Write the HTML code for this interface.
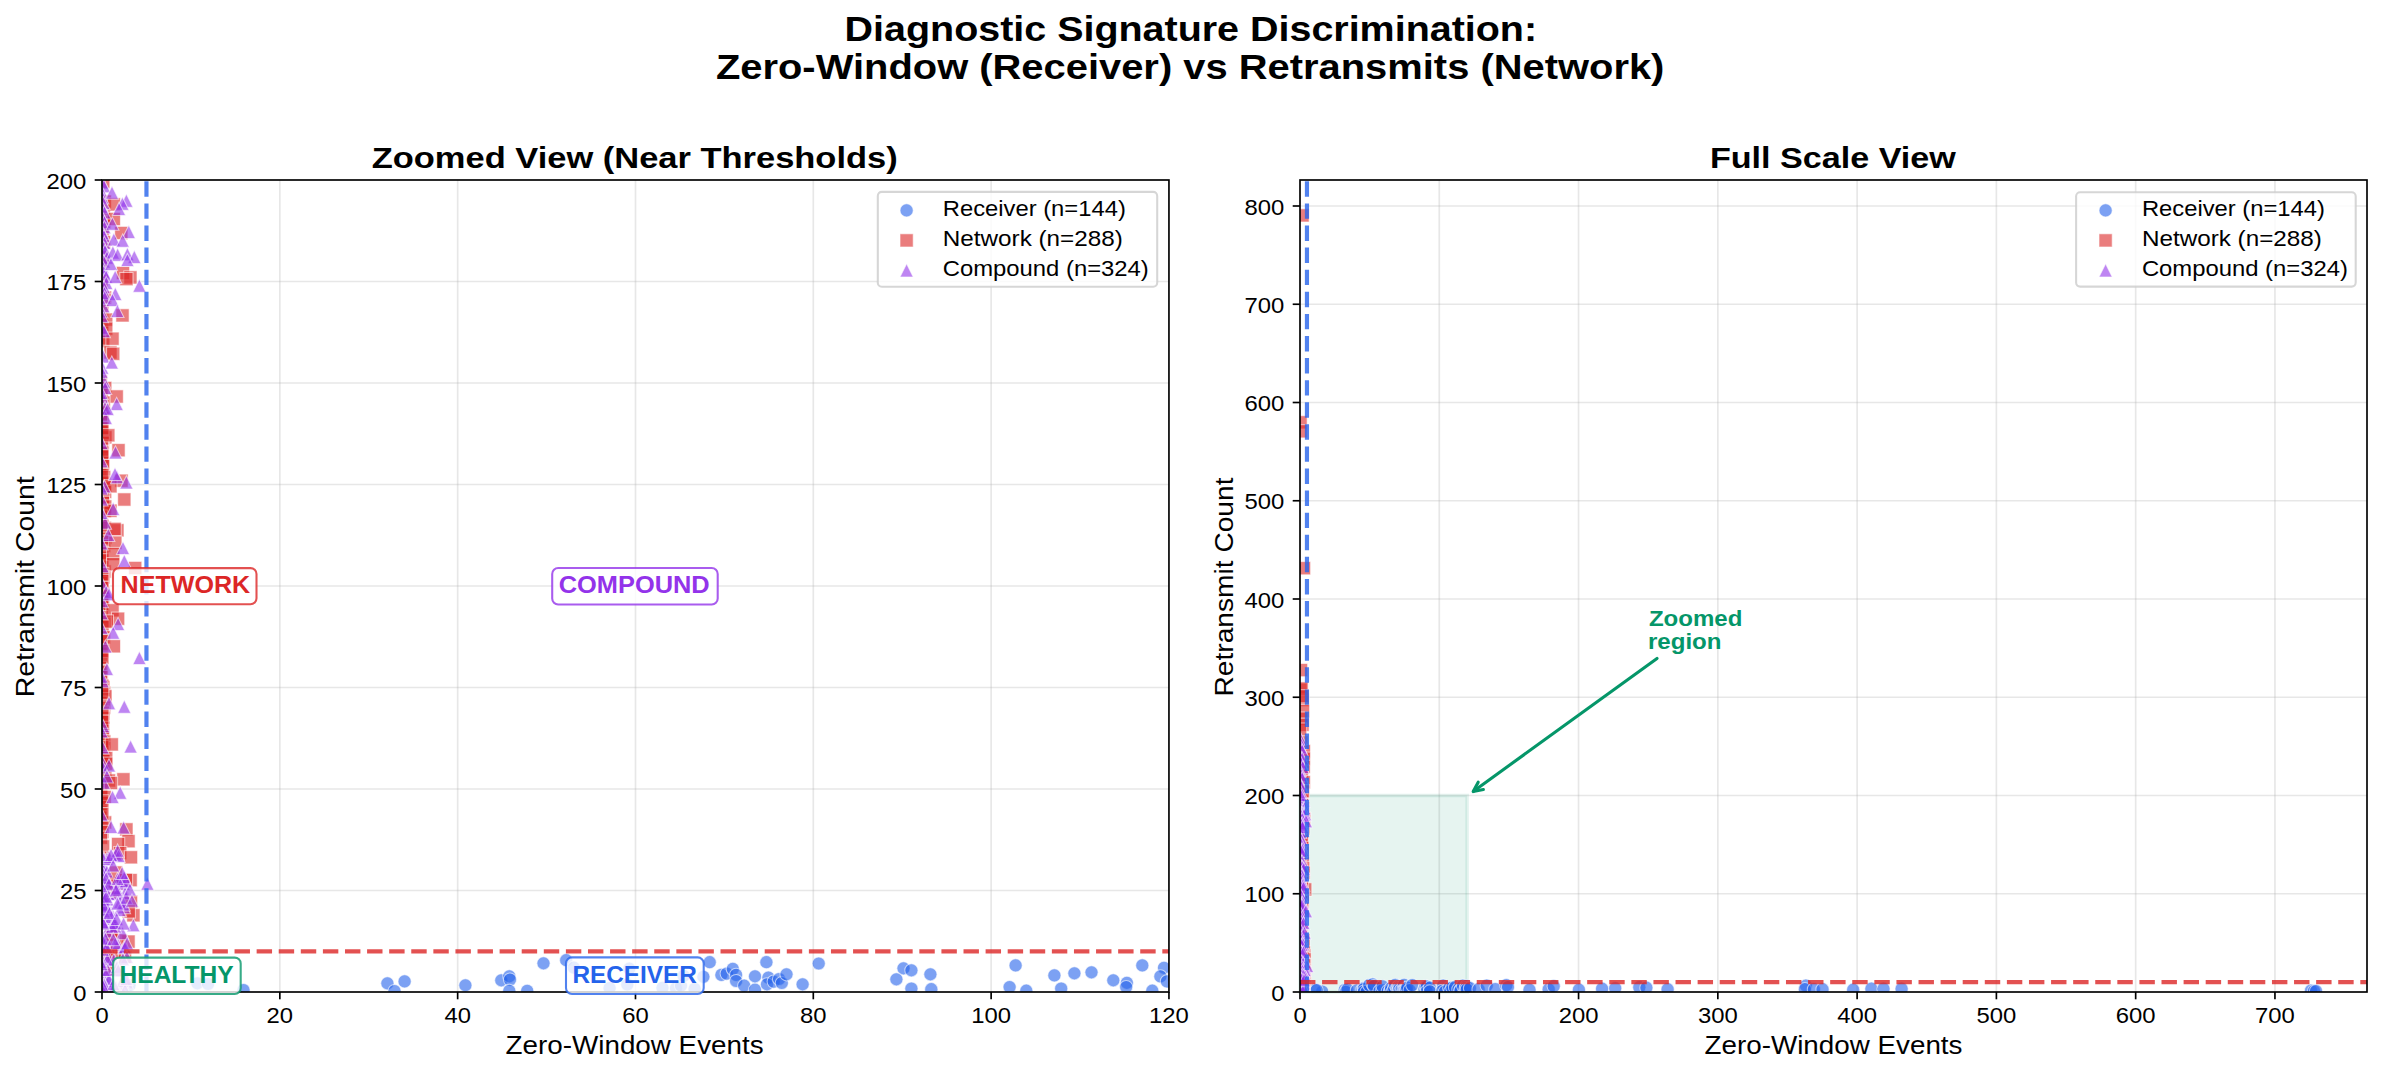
<!DOCTYPE html>
<html><head><meta charset="utf-8"><title>Diagnostic Signature Discrimination</title><style>html,body{margin:0;padding:0;background:#fff;overflow:hidden}svg{display:block}</style></head><body>
<svg width="2382" height="1074" viewBox="0 0 2382 1074" font-family='"Liberation Sans", sans-serif'>
<rect width="2382" height="1074" fill="#fff"/>
<defs>
<clipPath id="cl"><rect x="102.00" y="180.00" width="1066.95" height="812.00"/></clipPath>
<clipPath id="cr"><rect x="1300.00" y="180.00" width="1067.00" height="812.00"/></clipPath>
</defs>
<text x="844.6" y="41.1" font-size="34.5" font-weight="bold" text-anchor="start" fill="#000" textLength="692.5" lengthAdjust="spacingAndGlyphs">Diagnostic Signature Discrimination:</text>
<text x="715.9" y="79.1" font-size="34.5" font-weight="bold" text-anchor="start" fill="#000" textLength="948.5" lengthAdjust="spacingAndGlyphs">Zero-Window (Receiver) vs Retransmits (Network)</text>
<text x="371.7" y="168.3" font-size="29.7" font-weight="bold" text-anchor="start" fill="#000" textLength="526.0" lengthAdjust="spacingAndGlyphs">Zoomed View (Near Thresholds)</text>
<text x="1709.9" y="168.0" font-size="29.7" font-weight="bold" text-anchor="start" fill="#000" textLength="246.0" lengthAdjust="spacingAndGlyphs">Full Scale View</text>
<line x1="279.83" y1="180.0" x2="279.83" y2="992.0" stroke="#b0b0b0" stroke-opacity="0.3" stroke-width="1.67"/>
<line x1="457.65" y1="180.0" x2="457.65" y2="992.0" stroke="#b0b0b0" stroke-opacity="0.3" stroke-width="1.67"/>
<line x1="635.48" y1="180.0" x2="635.48" y2="992.0" stroke="#b0b0b0" stroke-opacity="0.3" stroke-width="1.67"/>
<line x1="813.30" y1="180.0" x2="813.30" y2="992.0" stroke="#b0b0b0" stroke-opacity="0.3" stroke-width="1.67"/>
<line x1="991.13" y1="180.0" x2="991.13" y2="992.0" stroke="#b0b0b0" stroke-opacity="0.3" stroke-width="1.67"/>
<line x1="102.0" y1="890.50" x2="1168.95" y2="890.50" stroke="#b0b0b0" stroke-opacity="0.3" stroke-width="1.67"/>
<line x1="102.0" y1="789.00" x2="1168.95" y2="789.00" stroke="#b0b0b0" stroke-opacity="0.3" stroke-width="1.67"/>
<line x1="102.0" y1="687.50" x2="1168.95" y2="687.50" stroke="#b0b0b0" stroke-opacity="0.3" stroke-width="1.67"/>
<line x1="102.0" y1="586.00" x2="1168.95" y2="586.00" stroke="#b0b0b0" stroke-opacity="0.3" stroke-width="1.67"/>
<line x1="102.0" y1="484.50" x2="1168.95" y2="484.50" stroke="#b0b0b0" stroke-opacity="0.3" stroke-width="1.67"/>
<line x1="102.0" y1="383.00" x2="1168.95" y2="383.00" stroke="#b0b0b0" stroke-opacity="0.3" stroke-width="1.67"/>
<line x1="102.0" y1="281.50" x2="1168.95" y2="281.50" stroke="#b0b0b0" stroke-opacity="0.3" stroke-width="1.67"/>
<line x1="1439.28" y1="180.0" x2="1439.28" y2="992.0" stroke="#b0b0b0" stroke-opacity="0.3" stroke-width="1.67"/>
<line x1="1578.56" y1="180.0" x2="1578.56" y2="992.0" stroke="#b0b0b0" stroke-opacity="0.3" stroke-width="1.67"/>
<line x1="1717.84" y1="180.0" x2="1717.84" y2="992.0" stroke="#b0b0b0" stroke-opacity="0.3" stroke-width="1.67"/>
<line x1="1857.12" y1="180.0" x2="1857.12" y2="992.0" stroke="#b0b0b0" stroke-opacity="0.3" stroke-width="1.67"/>
<line x1="1996.39" y1="180.0" x2="1996.39" y2="992.0" stroke="#b0b0b0" stroke-opacity="0.3" stroke-width="1.67"/>
<line x1="2135.67" y1="180.0" x2="2135.67" y2="992.0" stroke="#b0b0b0" stroke-opacity="0.3" stroke-width="1.67"/>
<line x1="2274.95" y1="180.0" x2="2274.95" y2="992.0" stroke="#b0b0b0" stroke-opacity="0.3" stroke-width="1.67"/>
<line x1="1300.0" y1="893.75" x2="2367.0" y2="893.75" stroke="#b0b0b0" stroke-opacity="0.3" stroke-width="1.67"/>
<line x1="1300.0" y1="795.50" x2="2367.0" y2="795.50" stroke="#b0b0b0" stroke-opacity="0.3" stroke-width="1.67"/>
<line x1="1300.0" y1="697.25" x2="2367.0" y2="697.25" stroke="#b0b0b0" stroke-opacity="0.3" stroke-width="1.67"/>
<line x1="1300.0" y1="599.00" x2="2367.0" y2="599.00" stroke="#b0b0b0" stroke-opacity="0.3" stroke-width="1.67"/>
<line x1="1300.0" y1="500.75" x2="2367.0" y2="500.75" stroke="#b0b0b0" stroke-opacity="0.3" stroke-width="1.67"/>
<line x1="1300.0" y1="402.50" x2="2367.0" y2="402.50" stroke="#b0b0b0" stroke-opacity="0.3" stroke-width="1.67"/>
<line x1="1300.0" y1="304.25" x2="2367.0" y2="304.25" stroke="#b0b0b0" stroke-opacity="0.3" stroke-width="1.67"/>
<line x1="1300.0" y1="206.00" x2="2367.0" y2="206.00" stroke="#b0b0b0" stroke-opacity="0.3" stroke-width="1.67"/>
<rect x="1300.0" y="795.50" width="167.13" height="196.50" fill="#059669" fill-opacity="0.1" stroke="#059669" stroke-opacity="0.1" stroke-width="3.6"/>
<style>.c{fill:#2563eb;fill-opacity:.6;stroke:#fff;stroke-opacity:.6;stroke-width:1.04}.s{fill:#dc2626;fill-opacity:.6;stroke:#fff;stroke-opacity:.6;stroke-width:1.04}.t{fill:#9333ea;fill-opacity:.6;stroke:#fff;stroke-opacity:.6;stroke-width:1.04}</style>
<g clip-path="url(#cl)">
<circle cx="243.5" cy="990.0" r="6.60" class="c"/>
<circle cx="387.4" cy="983.3" r="6.60" class="c"/>
<circle cx="394.5" cy="991.0" r="6.60" class="c"/>
<circle cx="404.6" cy="981.4" r="6.60" class="c"/>
<circle cx="465.4" cy="985.3" r="6.60" class="c"/>
<circle cx="501.3" cy="980.3" r="6.60" class="c"/>
<circle cx="509.3" cy="976.3" r="6.60" class="c"/>
<circle cx="510.0" cy="979.6" r="6.60" class="c"/>
<circle cx="509.3" cy="990.8" r="6.60" class="c"/>
<circle cx="527.2" cy="990.8" r="6.60" class="c"/>
<circle cx="543.5" cy="963.3" r="6.60" class="c"/>
<circle cx="566.2" cy="960.2" r="6.60" class="c"/>
<circle cx="573.9" cy="967.7" r="6.60" class="c"/>
<circle cx="609.6" cy="988.0" r="6.60" class="c"/>
<circle cx="627.3" cy="984.5" r="6.60" class="c"/>
<circle cx="629.3" cy="968.7" r="6.60" class="c"/>
<circle cx="662.5" cy="987.8" r="6.60" class="c"/>
<circle cx="676.0" cy="988.2" r="6.60" class="c"/>
<circle cx="681.0" cy="985.7" r="6.60" class="c"/>
<circle cx="683.6" cy="975.9" r="6.60" class="c"/>
<circle cx="694.6" cy="988.8" r="6.60" class="c"/>
<circle cx="703.4" cy="976.8" r="6.60" class="c"/>
<circle cx="709.7" cy="962.2" r="6.60" class="c"/>
<circle cx="721.4" cy="974.9" r="6.60" class="c"/>
<circle cx="726.7" cy="973.6" r="6.60" class="c"/>
<circle cx="732.8" cy="968.9" r="6.60" class="c"/>
<circle cx="736.1" cy="974.9" r="6.60" class="c"/>
<circle cx="736.1" cy="981.0" r="6.60" class="c"/>
<circle cx="744.2" cy="985.7" r="6.60" class="c"/>
<circle cx="755.0" cy="989.7" r="6.60" class="c"/>
<circle cx="755.0" cy="976.3" r="6.60" class="c"/>
<circle cx="766.4" cy="962.2" r="6.60" class="c"/>
<circle cx="768.4" cy="977.6" r="6.60" class="c"/>
<circle cx="767.0" cy="984.3" r="6.60" class="c"/>
<circle cx="773.7" cy="981.6" r="6.60" class="c"/>
<circle cx="779.1" cy="979.0" r="6.60" class="c"/>
<circle cx="781.8" cy="983.0" r="6.60" class="c"/>
<circle cx="786.5" cy="974.3" r="6.60" class="c"/>
<circle cx="802.6" cy="984.3" r="6.60" class="c"/>
<circle cx="818.7" cy="963.5" r="6.60" class="c"/>
<circle cx="896.4" cy="979.3" r="6.60" class="c"/>
<circle cx="903.5" cy="968.3" r="6.60" class="c"/>
<circle cx="911.4" cy="970.3" r="6.60" class="c"/>
<circle cx="911.4" cy="988.5" r="6.60" class="c"/>
<circle cx="930.4" cy="974.3" r="6.60" class="c"/>
<circle cx="931.3" cy="989.2" r="6.60" class="c"/>
<circle cx="1015.6" cy="965.4" r="6.60" class="c"/>
<circle cx="1009.6" cy="987.1" r="6.60" class="c"/>
<circle cx="1026.3" cy="990.7" r="6.60" class="c"/>
<circle cx="1054.4" cy="975.4" r="6.60" class="c"/>
<circle cx="1061.2" cy="988.5" r="6.60" class="c"/>
<circle cx="1074.4" cy="973.3" r="6.60" class="c"/>
<circle cx="1091.5" cy="972.3" r="6.60" class="c"/>
<circle cx="1113.3" cy="980.3" r="6.60" class="c"/>
<circle cx="1126.9" cy="982.8" r="6.60" class="c"/>
<circle cx="1126.2" cy="987.1" r="6.60" class="c"/>
<circle cx="1152.3" cy="990.7" r="6.60" class="c"/>
<circle cx="1142.3" cy="965.4" r="6.60" class="c"/>
<circle cx="1164.0" cy="967.8" r="6.60" class="c"/>
<circle cx="1160.4" cy="976.4" r="6.60" class="c"/>
<circle cx="1166.9" cy="981.4" r="6.60" class="c"/>
<circle cx="129.5" cy="985.3" r="6.60" class="c"/>
<circle cx="197.4" cy="983.3" r="6.60" class="c"/>
<circle cx="208.1" cy="984.0" r="6.60" class="c"/>
<rect x="96.6" y="175.1" width="13.2" height="13.2" class="s"/>
<rect x="98.2" y="195.0" width="13.2" height="13.2" class="s"/>
<rect x="97.3" y="210.3" width="13.2" height="13.2" class="s"/>
<rect x="97.9" y="215.8" width="13.2" height="13.2" class="s"/>
<rect x="96.0" y="225.9" width="13.2" height="13.2" class="s"/>
<rect x="97.4" y="235.6" width="13.2" height="13.2" class="s"/>
<rect x="95.8" y="250.7" width="13.2" height="13.2" class="s"/>
<rect x="94.2" y="255.9" width="13.2" height="13.2" class="s"/>
<rect x="94.8" y="274.9" width="13.2" height="13.2" class="s"/>
<rect x="93.9" y="280.2" width="13.2" height="13.2" class="s"/>
<rect x="98.4" y="291.0" width="13.2" height="13.2" class="s"/>
<rect x="95.6" y="304.5" width="13.2" height="13.2" class="s"/>
<rect x="94.0" y="311.1" width="13.2" height="13.2" class="s"/>
<rect x="95.2" y="315.1" width="13.2" height="13.2" class="s"/>
<rect x="95.6" y="324.9" width="13.2" height="13.2" class="s"/>
<rect x="94.0" y="331.3" width="13.2" height="13.2" class="s"/>
<rect x="96.6" y="334.5" width="13.2" height="13.2" class="s"/>
<rect x="94.0" y="375.0" width="13.2" height="13.2" class="s"/>
<rect x="98.6" y="381.4" width="13.2" height="13.2" class="s"/>
<rect x="95.0" y="384.9" width="13.2" height="13.2" class="s"/>
<rect x="97.2" y="396.0" width="13.2" height="13.2" class="s"/>
<rect x="94.8" y="406.0" width="13.2" height="13.2" class="s"/>
<rect x="95.9" y="411.3" width="13.2" height="13.2" class="s"/>
<rect x="94.5" y="414.7" width="13.2" height="13.2" class="s"/>
<rect x="94.6" y="421.1" width="13.2" height="13.2" class="s"/>
<rect x="95.7" y="425.5" width="13.2" height="13.2" class="s"/>
<rect x="98.8" y="430.7" width="13.2" height="13.2" class="s"/>
<rect x="96.1" y="436.1" width="13.2" height="13.2" class="s"/>
<rect x="95.2" y="440.0" width="13.2" height="13.2" class="s"/>
<rect x="95.2" y="445.2" width="13.2" height="13.2" class="s"/>
<rect x="95.7" y="450.3" width="13.2" height="13.2" class="s"/>
<rect x="96.0" y="456.2" width="13.2" height="13.2" class="s"/>
<rect x="96.5" y="459.4" width="13.2" height="13.2" class="s"/>
<rect x="93.9" y="466.0" width="13.2" height="13.2" class="s"/>
<rect x="97.5" y="470.5" width="13.2" height="13.2" class="s"/>
<rect x="96.7" y="476.0" width="13.2" height="13.2" class="s"/>
<rect x="97.8" y="480.4" width="13.2" height="13.2" class="s"/>
<rect x="98.5" y="485.3" width="13.2" height="13.2" class="s"/>
<rect x="96.5" y="490.8" width="13.2" height="13.2" class="s"/>
<rect x="96.3" y="496.3" width="13.2" height="13.2" class="s"/>
<rect x="98.6" y="499.9" width="13.2" height="13.2" class="s"/>
<rect x="98.1" y="504.7" width="13.2" height="13.2" class="s"/>
<rect x="94.3" y="509.9" width="13.2" height="13.2" class="s"/>
<rect x="94.7" y="515.8" width="13.2" height="13.2" class="s"/>
<rect x="98.3" y="521.3" width="13.2" height="13.2" class="s"/>
<rect x="98.8" y="531.1" width="13.2" height="13.2" class="s"/>
<rect x="96.5" y="535.1" width="13.2" height="13.2" class="s"/>
<rect x="97.5" y="539.4" width="13.2" height="13.2" class="s"/>
<rect x="94.0" y="545.1" width="13.2" height="13.2" class="s"/>
<rect x="94.2" y="551.4" width="13.2" height="13.2" class="s"/>
<rect x="95.3" y="559.7" width="13.2" height="13.2" class="s"/>
<rect x="98.0" y="564.9" width="13.2" height="13.2" class="s"/>
<rect x="96.8" y="570.8" width="13.2" height="13.2" class="s"/>
<rect x="94.3" y="576.3" width="13.2" height="13.2" class="s"/>
<rect x="94.3" y="581.1" width="13.2" height="13.2" class="s"/>
<rect x="96.7" y="586.3" width="13.2" height="13.2" class="s"/>
<rect x="96.5" y="589.9" width="13.2" height="13.2" class="s"/>
<rect x="95.5" y="595.0" width="13.2" height="13.2" class="s"/>
<rect x="96.4" y="599.8" width="13.2" height="13.2" class="s"/>
<rect x="95.2" y="604.4" width="13.2" height="13.2" class="s"/>
<rect x="94.8" y="610.3" width="13.2" height="13.2" class="s"/>
<rect x="98.0" y="615.3" width="13.2" height="13.2" class="s"/>
<rect x="95.9" y="620.4" width="13.2" height="13.2" class="s"/>
<rect x="97.4" y="630.7" width="13.2" height="13.2" class="s"/>
<rect x="94.2" y="634.7" width="13.2" height="13.2" class="s"/>
<rect x="94.3" y="641.1" width="13.2" height="13.2" class="s"/>
<rect x="95.3" y="644.9" width="13.2" height="13.2" class="s"/>
<rect x="94.7" y="650.3" width="13.2" height="13.2" class="s"/>
<rect x="95.1" y="661.3" width="13.2" height="13.2" class="s"/>
<rect x="93.9" y="665.2" width="13.2" height="13.2" class="s"/>
<rect x="94.9" y="670.4" width="13.2" height="13.2" class="s"/>
<rect x="94.1" y="674.4" width="13.2" height="13.2" class="s"/>
<rect x="96.8" y="680.5" width="13.2" height="13.2" class="s"/>
<rect x="97.5" y="686.2" width="13.2" height="13.2" class="s"/>
<rect x="98.8" y="689.7" width="13.2" height="13.2" class="s"/>
<rect x="94.1" y="696.1" width="13.2" height="13.2" class="s"/>
<rect x="97.6" y="701.0" width="13.2" height="13.2" class="s"/>
<rect x="96.4" y="706.1" width="13.2" height="13.2" class="s"/>
<rect x="96.8" y="711.2" width="13.2" height="13.2" class="s"/>
<rect x="95.0" y="714.5" width="13.2" height="13.2" class="s"/>
<rect x="96.7" y="720.7" width="13.2" height="13.2" class="s"/>
<rect x="96.3" y="724.4" width="13.2" height="13.2" class="s"/>
<rect x="96.4" y="730.5" width="13.2" height="13.2" class="s"/>
<rect x="97.6" y="734.9" width="13.2" height="13.2" class="s"/>
<rect x="97.6" y="741.4" width="13.2" height="13.2" class="s"/>
<rect x="96.3" y="745.8" width="13.2" height="13.2" class="s"/>
<rect x="97.1" y="749.6" width="13.2" height="13.2" class="s"/>
<rect x="96.7" y="754.4" width="13.2" height="13.2" class="s"/>
<rect x="97.3" y="760.0" width="13.2" height="13.2" class="s"/>
<rect x="96.2" y="764.6" width="13.2" height="13.2" class="s"/>
<rect x="98.8" y="771.3" width="13.2" height="13.2" class="s"/>
<rect x="94.9" y="781.3" width="13.2" height="13.2" class="s"/>
<rect x="94.6" y="785.4" width="13.2" height="13.2" class="s"/>
<rect x="98.0" y="790.4" width="13.2" height="13.2" class="s"/>
<rect x="95.1" y="796.2" width="13.2" height="13.2" class="s"/>
<rect x="93.9" y="800.4" width="13.2" height="13.2" class="s"/>
<rect x="94.6" y="805.1" width="13.2" height="13.2" class="s"/>
<rect x="93.9" y="810.9" width="13.2" height="13.2" class="s"/>
<rect x="98.5" y="815.8" width="13.2" height="13.2" class="s"/>
<rect x="95.8" y="820.2" width="13.2" height="13.2" class="s"/>
<rect x="95.7" y="825.3" width="13.2" height="13.2" class="s"/>
<rect x="94.4" y="831.1" width="13.2" height="13.2" class="s"/>
<rect x="96.5" y="839.8" width="13.2" height="13.2" class="s"/>
<rect x="97.1" y="851.2" width="13.2" height="13.2" class="s"/>
<rect x="107.2" y="197.8" width="13.2" height="13.2" class="s"/>
<rect x="107.2" y="212.4" width="13.2" height="13.2" class="s"/>
<rect x="114.7" y="226.4" width="13.2" height="13.2" class="s"/>
<rect x="116.4" y="266.4" width="13.2" height="13.2" class="s"/>
<rect x="123.8" y="270.8" width="13.2" height="13.2" class="s"/>
<rect x="119.8" y="272.5" width="13.2" height="13.2" class="s"/>
<rect x="115.9" y="308.8" width="13.2" height="13.2" class="s"/>
<rect x="99.6" y="313.0" width="13.2" height="13.2" class="s"/>
<rect x="99.6" y="322.1" width="13.2" height="13.2" class="s"/>
<rect x="105.9" y="332.1" width="13.2" height="13.2" class="s"/>
<rect x="103.8" y="345.8" width="13.2" height="13.2" class="s"/>
<rect x="106.6" y="347.2" width="13.2" height="13.2" class="s"/>
<rect x="110.1" y="389.9" width="13.2" height="13.2" class="s"/>
<rect x="95.7" y="421.7" width="13.2" height="13.2" class="s"/>
<rect x="101.7" y="428.7" width="13.2" height="13.2" class="s"/>
<rect x="95.7" y="446.1" width="13.2" height="13.2" class="s"/>
<rect x="111.9" y="443.6" width="13.2" height="13.2" class="s"/>
<rect x="95.7" y="468.5" width="13.2" height="13.2" class="s"/>
<rect x="114.9" y="474.1" width="13.2" height="13.2" class="s"/>
<rect x="103.8" y="479.7" width="13.2" height="13.2" class="s"/>
<rect x="117.7" y="492.9" width="13.2" height="13.2" class="s"/>
<rect x="103.8" y="504.1" width="13.2" height="13.2" class="s"/>
<rect x="95.7" y="518.8" width="13.2" height="13.2" class="s"/>
<rect x="110.8" y="523.7" width="13.2" height="13.2" class="s"/>
<rect x="108.0" y="522.3" width="13.2" height="13.2" class="s"/>
<rect x="108.7" y="536.2" width="13.2" height="13.2" class="s"/>
<rect x="95.7" y="546.7" width="13.2" height="13.2" class="s"/>
<rect x="95.7" y="553.7" width="13.2" height="13.2" class="s"/>
<rect x="106.6" y="547.4" width="13.2" height="13.2" class="s"/>
<rect x="128.6" y="561.4" width="13.2" height="13.2" class="s"/>
<rect x="106.6" y="557.6" width="13.2" height="13.2" class="s"/>
<rect x="95.7" y="567.4" width="13.2" height="13.2" class="s"/>
<rect x="95.7" y="574.4" width="13.2" height="13.2" class="s"/>
<rect x="95.7" y="581.4" width="13.2" height="13.2" class="s"/>
<rect x="95.7" y="597.4" width="13.2" height="13.2" class="s"/>
<rect x="105.9" y="603.7" width="13.2" height="13.2" class="s"/>
<rect x="111.5" y="612.1" width="13.2" height="13.2" class="s"/>
<rect x="100.3" y="614.9" width="13.2" height="13.2" class="s"/>
<rect x="95.7" y="633.7" width="13.2" height="13.2" class="s"/>
<rect x="107.3" y="639.7" width="13.2" height="13.2" class="s"/>
<rect x="95.7" y="644.2" width="13.2" height="13.2" class="s"/>
<rect x="95.7" y="651.2" width="13.2" height="13.2" class="s"/>
<rect x="95.7" y="679.2" width="13.2" height="13.2" class="s"/>
<rect x="95.7" y="686.1" width="13.2" height="13.2" class="s"/>
<rect x="95.7" y="708.2" width="13.2" height="13.2" class="s"/>
<rect x="95.7" y="715.2" width="13.2" height="13.2" class="s"/>
<rect x="95.7" y="734.7" width="13.2" height="13.2" class="s"/>
<rect x="95.7" y="740.3" width="13.2" height="13.2" class="s"/>
<rect x="105.2" y="737.8" width="13.2" height="13.2" class="s"/>
<rect x="99.6" y="751.5" width="13.2" height="13.2" class="s"/>
<rect x="99.6" y="757.1" width="13.2" height="13.2" class="s"/>
<rect x="102.4" y="773.9" width="13.2" height="13.2" class="s"/>
<rect x="116.8" y="772.7" width="13.2" height="13.2" class="s"/>
<rect x="104.4" y="776.4" width="13.2" height="13.2" class="s"/>
<rect x="95.7" y="794.8" width="13.2" height="13.2" class="s"/>
<rect x="95.7" y="807.4" width="13.2" height="13.2" class="s"/>
<rect x="119.8" y="822.8" width="13.2" height="13.2" class="s"/>
<rect x="121.9" y="834.6" width="13.2" height="13.2" class="s"/>
<rect x="111.5" y="837.4" width="13.2" height="13.2" class="s"/>
<rect x="113.6" y="846.5" width="13.2" height="13.2" class="s"/>
<rect x="124.4" y="850.7" width="13.2" height="13.2" class="s"/>
<rect x="124.0" y="873.5" width="13.2" height="13.2" class="s"/>
<rect x="111.5" y="877.0" width="13.2" height="13.2" class="s"/>
<rect x="105.2" y="876.4" width="13.2" height="13.2" class="s"/>
<rect x="124.4" y="895.2" width="13.2" height="13.2" class="s"/>
<rect x="126.8" y="908.7" width="13.2" height="13.2" class="s"/>
<rect x="121.9" y="935.0" width="13.2" height="13.2" class="s"/>
<rect x="98.6" y="887.8" width="13.2" height="13.2" class="s"/>
<rect x="109.4" y="865.9" width="13.2" height="13.2" class="s"/>
<rect x="108.0" y="945.7" width="13.2" height="13.2" class="s"/>
<rect x="107.2" y="883.8" width="13.2" height="13.2" class="s"/>
<rect x="113.9" y="934.0" width="13.2" height="13.2" class="s"/>
<rect x="118.4" y="950.6" width="13.2" height="13.2" class="s"/>
<rect x="99.6" y="939.8" width="13.2" height="13.2" class="s"/>
<rect x="104.0" y="962.7" width="13.2" height="13.2" class="s"/>
<rect x="106.1" y="927.1" width="13.2" height="13.2" class="s"/>
<rect x="101.6" y="949.3" width="13.2" height="13.2" class="s"/>
<rect x="102.8" y="885.6" width="13.2" height="13.2" class="s"/>
<rect x="119.4" y="873.3" width="13.2" height="13.2" class="s"/>
<rect x="104.9" y="928.6" width="13.2" height="13.2" class="s"/>
<rect x="122.2" y="904.9" width="13.2" height="13.2" class="s"/>
<path d="M101.9 175.7L95.3 188.9H108.5Z" class="t"/>
<path d="M104.0 179.5L97.4 192.7H110.6Z" class="t"/>
<path d="M101.5 185.2L94.9 198.4H108.1Z" class="t"/>
<path d="M102.3 190.7L95.7 203.9H108.9Z" class="t"/>
<path d="M103.4 196.4L96.8 209.6H110.0Z" class="t"/>
<path d="M101.7 200.0L95.1 213.2H108.3Z" class="t"/>
<path d="M104.5 205.7L97.9 218.9H111.1Z" class="t"/>
<path d="M101.4 209.5L94.8 222.7H108.0Z" class="t"/>
<path d="M104.5 215.3L97.9 228.5H111.1Z" class="t"/>
<path d="M104.4 220.5L97.8 233.7H111.0Z" class="t"/>
<path d="M102.7 226.4L96.1 239.6H109.3Z" class="t"/>
<path d="M103.9 229.5L97.3 242.7H110.5Z" class="t"/>
<path d="M104.4 236.2L97.8 249.4H111.0Z" class="t"/>
<path d="M103.7 241.1L97.1 254.3H110.3Z" class="t"/>
<path d="M105.0 244.5L98.4 257.7H111.6Z" class="t"/>
<path d="M107.0 251.0L100.4 264.2H113.6Z" class="t"/>
<path d="M103.8 254.7L97.2 267.9H110.4Z" class="t"/>
<path d="M102.5 260.2L95.9 273.4H109.1Z" class="t"/>
<path d="M103.7 265.5L97.1 278.7H110.3Z" class="t"/>
<path d="M106.2 270.0L99.6 283.2H112.8Z" class="t"/>
<path d="M106.3 276.3L99.7 289.5H112.9Z" class="t"/>
<path d="M103.9 280.6L97.3 293.8H110.5Z" class="t"/>
<path d="M104.4 286.3L97.8 299.5H111.0Z" class="t"/>
<path d="M104.7 290.8L98.1 304.0H111.3Z" class="t"/>
<path d="M103.4 299.6L96.8 312.8H110.0Z" class="t"/>
<path d="M101.4 304.8L94.8 318.0H108.0Z" class="t"/>
<path d="M101.9 309.6L95.3 322.8H108.5Z" class="t"/>
<path d="M101.7 321.1L95.1 334.3H108.3Z" class="t"/>
<path d="M103.9 324.6L97.3 337.8H110.5Z" class="t"/>
<path d="M103.2 349.7L96.6 362.9H109.8Z" class="t"/>
<path d="M102.3 361.0L95.7 374.2H108.9Z" class="t"/>
<path d="M104.1 375.1L97.5 388.3H110.7Z" class="t"/>
<path d="M105.2 381.3L98.6 394.5H111.8Z" class="t"/>
<path d="M102.2 390.6L95.6 403.8H108.8Z" class="t"/>
<path d="M105.0 401.2L98.4 414.4H111.6Z" class="t"/>
<path d="M105.8 411.3L99.2 424.5H112.4Z" class="t"/>
<path d="M104.4 479.9L97.8 493.1H111.0Z" class="t"/>
<path d="M105.0 516.0L98.4 529.2H111.6Z" class="t"/>
<path d="M102.6 559.5L96.0 572.7H109.2Z" class="t"/>
<path d="M101.3 575.8L94.7 589.0H107.9Z" class="t"/>
<path d="M106.2 585.3L99.6 598.5H112.8Z" class="t"/>
<path d="M102.0 594.5L95.4 607.7H108.6Z" class="t"/>
<path d="M105.4 639.9L98.8 653.1H112.0Z" class="t"/>
<path d="M102.6 674.6L96.0 687.8H109.2Z" class="t"/>
<path d="M103.2 719.6L96.6 732.8H109.8Z" class="t"/>
<path d="M102.6 740.9L96.0 754.1H109.2Z" class="t"/>
<path d="M102.5 755.9L95.9 769.1H109.1Z" class="t"/>
<path d="M102.6 760.7L96.0 773.9H109.2Z" class="t"/>
<path d="M103.8 776.0L97.2 789.2H110.4Z" class="t"/>
<path d="M111.0 980.7L104.4 993.9H117.6Z" class="t"/>
<path d="M101.2 948.5L94.6 961.7H107.8Z" class="t"/>
<path d="M108.3 950.3L101.7 963.5H114.9Z" class="t"/>
<path d="M113.9 953.3L107.3 966.5H120.5Z" class="t"/>
<path d="M101.2 885.2L94.6 898.4H107.8Z" class="t"/>
<path d="M102.0 978.7L95.4 991.9H108.6Z" class="t"/>
<path d="M105.7 912.3L99.1 925.5H112.3Z" class="t"/>
<path d="M117.0 886.9L110.4 900.1H123.6Z" class="t"/>
<path d="M104.0 985.9L97.4 999.1H110.6Z" class="t"/>
<path d="M104.8 939.2L98.2 952.4H111.4Z" class="t"/>
<path d="M106.9 924.8L100.3 938.0H113.5Z" class="t"/>
<path d="M102.4 867.8L95.8 881.0H109.0Z" class="t"/>
<path d="M123.2 873.7L116.6 886.9H129.8Z" class="t"/>
<path d="M103.3 916.0L96.7 929.2H109.9Z" class="t"/>
<path d="M126.9 975.7L120.3 988.9H133.5Z" class="t"/>
<path d="M102.1 909.1L95.5 922.3H108.7Z" class="t"/>
<path d="M101.6 871.5L95.0 884.7H108.2Z" class="t"/>
<path d="M101.6 893.3L95.0 906.5H108.2Z" class="t"/>
<path d="M104.0 878.3L97.4 891.5H110.6Z" class="t"/>
<path d="M122.5 926.6L115.9 939.8H129.1Z" class="t"/>
<path d="M107.3 952.9L100.7 966.1H113.9Z" class="t"/>
<path d="M110.2 903.8L103.6 917.0H116.8Z" class="t"/>
<path d="M105.6 898.4L99.0 911.6H112.2Z" class="t"/>
<path d="M104.3 852.5L97.7 865.7H110.9Z" class="t"/>
<path d="M101.9 984.7L95.3 997.9H108.5Z" class="t"/>
<path d="M113.4 916.9L106.8 930.1H120.0Z" class="t"/>
<path d="M103.2 969.4L96.6 982.6H109.8Z" class="t"/>
<path d="M103.8 883.0L97.2 896.2H110.4Z" class="t"/>
<path d="M108.1 901.8L101.5 915.0H114.7Z" class="t"/>
<path d="M121.0 982.7L114.4 995.9H127.6Z" class="t"/>
<path d="M101.1 970.8L94.5 984.0H107.7Z" class="t"/>
<path d="M116.0 848.1L109.4 861.3H122.6Z" class="t"/>
<path d="M108.9 974.2L102.3 987.4H115.5Z" class="t"/>
<path d="M101.0 929.1L94.4 942.3H107.6Z" class="t"/>
<path d="M124.0 900.6L117.4 913.8H130.6Z" class="t"/>
<path d="M121.3 963.9L114.7 977.1H127.9Z" class="t"/>
<path d="M103.8 985.3L97.2 998.5H110.4Z" class="t"/>
<path d="M102.3 859.3L95.7 872.5H108.9Z" class="t"/>
<path d="M115.1 919.7L108.5 932.9H121.7Z" class="t"/>
<path d="M116.4 980.9L109.8 994.1H123.0Z" class="t"/>
<path d="M117.9 937.9L111.3 951.1H124.5Z" class="t"/>
<path d="M111.0 910.2L104.4 923.4H117.6Z" class="t"/>
<path d="M118.6 849.2L112.0 862.4H125.2Z" class="t"/>
<path d="M123.7 877.4L117.1 890.6H130.3Z" class="t"/>
<path d="M104.9 937.6L98.3 950.8H111.5Z" class="t"/>
<path d="M103.9 862.1L97.3 875.3H110.5Z" class="t"/>
<path d="M115.6 936.3L109.0 949.5H122.2Z" class="t"/>
<path d="M101.4 859.8L94.8 873.0H108.0Z" class="t"/>
<path d="M112.0 920.0L105.4 933.2H118.6Z" class="t"/>
<path d="M103.4 900.1L96.8 913.3H110.0Z" class="t"/>
<path d="M101.0 931.2L94.4 944.4H107.6Z" class="t"/>
<path d="M108.5 887.4L101.9 900.6H115.1Z" class="t"/>
<path d="M113.9 983.4L107.3 996.6H120.5Z" class="t"/>
<path d="M108.9 972.4L102.3 985.6H115.5Z" class="t"/>
<path d="M103.8 877.7L97.2 890.9H110.4Z" class="t"/>
<path d="M115.9 983.6L109.3 996.8H122.5Z" class="t"/>
<path d="M101.1 888.3L94.5 901.5H107.7Z" class="t"/>
<path d="M114.8 916.2L108.2 929.4H121.4Z" class="t"/>
<path d="M104.0 904.7L97.4 917.9H110.6Z" class="t"/>
<path d="M124.0 940.8L117.4 954.0H130.6Z" class="t"/>
<path d="M101.1 876.5L94.5 889.7H107.7Z" class="t"/>
<path d="M107.5 892.8L100.9 906.0H114.1Z" class="t"/>
<path d="M102.9 943.1L96.3 956.3H109.5Z" class="t"/>
<path d="M117.0 959.8L110.4 973.0H123.6Z" class="t"/>
<path d="M103.1 917.1L96.5 930.3H109.7Z" class="t"/>
<path d="M105.0 985.0L98.4 998.2H111.6Z" class="t"/>
<path d="M103.5 963.1L96.9 976.3H110.1Z" class="t"/>
<path d="M117.8 875.7L111.2 888.9H124.4Z" class="t"/>
<path d="M125.0 886.5L118.4 899.7H131.6Z" class="t"/>
<path d="M102.8 915.8L96.2 929.0H109.4Z" class="t"/>
<path d="M107.4 876.0L100.8 889.2H114.0Z" class="t"/>
<path d="M124.9 940.5L118.3 953.7H131.5Z" class="t"/>
<path d="M106.8 864.8L100.2 878.0H113.4Z" class="t"/>
<path d="M125.9 874.5L119.3 887.7H132.5Z" class="t"/>
<path d="M101.2 864.1L94.6 877.3H107.8Z" class="t"/>
<path d="M106.8 852.2L100.2 865.4H113.4Z" class="t"/>
<path d="M122.3 974.5L115.7 987.7H128.9Z" class="t"/>
<path d="M126.9 950.4L120.3 963.6H133.5Z" class="t"/>
<path d="M105.4 979.4L98.8 992.6H112.0Z" class="t"/>
<path d="M124.4 870.5L117.8 883.7H131.0Z" class="t"/>
<path d="M101.1 952.4L94.5 965.6H107.7Z" class="t"/>
<path d="M106.5 940.4L99.9 953.6H113.1Z" class="t"/>
<path d="M105.4 898.0L98.8 911.2H112.0Z" class="t"/>
<path d="M101.0 868.1L94.4 881.3H107.6Z" class="t"/>
<path d="M105.9 884.3L99.3 897.5H112.5Z" class="t"/>
<path d="M101.9 982.9L95.3 996.1H108.5Z" class="t"/>
<path d="M103.1 984.2L96.5 997.4H109.7Z" class="t"/>
<path d="M120.0 895.5L113.4 908.7H126.6Z" class="t"/>
<path d="M107.8 963.4L101.2 976.6H114.4Z" class="t"/>
<path d="M108.9 850.6L102.3 863.8H115.5Z" class="t"/>
<path d="M123.7 897.8L117.1 911.0H130.3Z" class="t"/>
<path d="M106.2 871.6L99.6 884.8H112.8Z" class="t"/>
<path d="M101.1 974.4L94.5 987.6H107.7Z" class="t"/>
<path d="M119.6 903.4L113.0 916.6H126.2Z" class="t"/>
<path d="M101.2 955.3L94.6 968.5H107.8Z" class="t"/>
<path d="M101.3 848.5L94.7 861.7H107.9Z" class="t"/>
<path d="M104.0 977.7L97.4 990.9H110.6Z" class="t"/>
<path d="M122.9 952.5L116.3 965.7H129.5Z" class="t"/>
<path d="M104.2 892.9L97.6 906.1H110.8Z" class="t"/>
<path d="M113.0 983.2L106.4 996.4H119.6Z" class="t"/>
<path d="M116.3 881.7L109.7 894.9H122.9Z" class="t"/>
<path d="M104.3 889.6L97.7 902.8H110.9Z" class="t"/>
<path d="M117.6 844.0L111.0 857.2H124.2Z" class="t"/>
<path d="M113.5 977.2L106.9 990.4H120.1Z" class="t"/>
<path d="M101.1 981.1L94.5 994.3H107.7Z" class="t"/>
<path d="M108.9 877.5L102.3 890.7H115.5Z" class="t"/>
<path d="M125.1 983.1L118.5 996.3H131.7Z" class="t"/>
<path d="M103.8 899.8L97.2 913.0H110.4Z" class="t"/>
<path d="M109.4 906.2L102.8 919.4H116.0Z" class="t"/>
<path d="M102.7 978.9L96.1 992.1H109.3Z" class="t"/>
<path d="M117.0 960.6L110.4 973.8H123.6Z" class="t"/>
<path d="M118.2 963.5L111.6 976.7H124.8Z" class="t"/>
<path d="M105.4 932.1L98.8 945.3H112.0Z" class="t"/>
<path d="M106.1 890.1L99.5 903.3H112.7Z" class="t"/>
<path d="M101.4 957.6L94.8 970.8H108.0Z" class="t"/>
<path d="M117.5 872.2L110.9 885.4H124.1Z" class="t"/>
<path d="M101.3 879.5L94.7 892.7H107.9Z" class="t"/>
<path d="M111.1 848.3L104.5 861.5H117.7Z" class="t"/>
<path d="M126.2 891.0L119.6 904.2H132.8Z" class="t"/>
<path d="M126.5 972.4L119.9 985.6H133.1Z" class="t"/>
<path d="M112.0 186.0L105.4 199.2H118.6Z" class="t"/>
<path d="M126.4 194.0L119.8 207.2H133.0Z" class="t"/>
<path d="M122.4 197.0L115.8 210.2H129.0Z" class="t"/>
<path d="M119.0 202.2L112.4 215.4H125.6Z" class="t"/>
<path d="M112.4 217.1L105.8 230.3H119.0Z" class="t"/>
<path d="M128.8 225.3L122.2 238.5H135.4Z" class="t"/>
<path d="M113.8 232.9L107.2 246.1H120.4Z" class="t"/>
<path d="M122.7 234.0L116.1 247.2H129.3Z" class="t"/>
<path d="M112.9 245.7L106.3 258.9H119.5Z" class="t"/>
<path d="M117.6 248.0L111.0 261.2H124.2Z" class="t"/>
<path d="M127.4 247.5L120.8 260.7H134.0Z" class="t"/>
<path d="M134.3 250.3L127.7 263.5H140.9Z" class="t"/>
<path d="M127.4 253.4L120.8 266.6H134.0Z" class="t"/>
<path d="M111.0 257.4L104.4 270.6H117.6Z" class="t"/>
<path d="M115.2 270.2L108.6 283.4H121.8Z" class="t"/>
<path d="M139.4 279.0L132.8 292.2H146.0Z" class="t"/>
<path d="M115.3 287.2L108.7 300.4H121.9Z" class="t"/>
<path d="M112.5 293.4L105.9 306.6H119.1Z" class="t"/>
<path d="M117.4 304.2L110.8 317.4H124.0Z" class="t"/>
<path d="M111.8 355.9L105.2 369.1H118.4Z" class="t"/>
<path d="M101.6 365.1L95.0 378.3H108.2Z" class="t"/>
<path d="M101.6 386.4L95.0 399.6H108.2Z" class="t"/>
<path d="M116.7 397.3L110.1 410.5H123.3Z" class="t"/>
<path d="M107.6 402.4L101.0 415.6H114.2Z" class="t"/>
<path d="M101.6 436.4L95.0 449.6H108.2Z" class="t"/>
<path d="M115.5 445.8L108.9 459.0H122.1Z" class="t"/>
<path d="M101.6 454.5L95.0 467.7H108.2Z" class="t"/>
<path d="M117.1 470.6L110.5 483.8H123.7Z" class="t"/>
<path d="M115.0 467.4L108.4 480.6H121.6Z" class="t"/>
<path d="M126.4 475.7L119.8 488.9H133.0Z" class="t"/>
<path d="M101.6 481.8L95.0 495.0H108.2Z" class="t"/>
<path d="M101.6 492.9L95.0 506.1H108.2Z" class="t"/>
<path d="M113.2 502.3L106.6 515.5H119.8Z" class="t"/>
<path d="M101.6 506.2L95.0 519.4H108.2Z" class="t"/>
<path d="M108.3 528.3L101.7 541.5H114.9Z" class="t"/>
<path d="M101.6 536.9L95.0 550.1H108.2Z" class="t"/>
<path d="M123.0 541.4L116.4 554.6H129.6Z" class="t"/>
<path d="M124.3 554.4L117.7 567.6H130.9Z" class="t"/>
<path d="M109.0 587.6L102.4 600.8H115.6Z" class="t"/>
<path d="M101.6 606.5L95.0 619.7H108.2Z" class="t"/>
<path d="M118.1 617.3L111.5 630.5H124.7Z" class="t"/>
<path d="M101.6 621.2L95.0 634.4H108.2Z" class="t"/>
<path d="M113.2 626.1L106.6 639.3H119.8Z" class="t"/>
<path d="M139.4 651.2L132.8 664.4H146.0Z" class="t"/>
<path d="M106.9 662.4L100.3 675.6H113.5Z" class="t"/>
<path d="M101.6 670.1L95.0 683.3H108.2Z" class="t"/>
<path d="M109.0 696.6L102.4 709.8H115.6Z" class="t"/>
<path d="M124.3 700.1L117.7 713.3H130.9Z" class="t"/>
<path d="M101.6 724.9L95.0 738.1H108.2Z" class="t"/>
<path d="M130.6 739.9L124.0 753.1H137.2Z" class="t"/>
<path d="M109.0 758.8L102.4 772.0H115.6Z" class="t"/>
<path d="M106.9 769.7L100.3 782.9H113.5Z" class="t"/>
<path d="M120.2 786.0L113.6 799.2H126.8Z" class="t"/>
<path d="M112.5 790.2L105.9 803.4H119.1Z" class="t"/>
<path d="M101.6 808.1L95.0 821.3H108.2Z" class="t"/>
<path d="M111.1 820.2L104.5 833.4H117.7Z" class="t"/>
<path d="M123.6 820.9L117.0 834.1H130.2Z" class="t"/>
<path d="M113.2 858.9L106.6 872.1H119.8Z" class="t"/>
<path d="M122.2 866.3L115.6 879.5H128.8Z" class="t"/>
<path d="M147.4 877.0L140.8 890.2H154.0Z" class="t"/>
<path d="M129.9 882.9L123.3 896.1H136.5Z" class="t"/>
<path d="M116.0 883.6L109.4 896.8H122.6Z" class="t"/>
<path d="M132.0 894.1L125.4 907.3H138.6Z" class="t"/>
<path d="M117.4 896.9L110.8 910.1H124.0Z" class="t"/>
<path d="M116.7 912.2L110.1 925.4H123.3Z" class="t"/>
<path d="M133.4 918.5L126.8 931.7H140.0Z" class="t"/>
<path d="M123.6 916.9L117.0 930.1H130.2Z" class="t"/>
<path d="M113.2 932.5L106.6 945.7H119.8Z" class="t"/>
<path d="M127.1 936.7L120.5 949.9H133.7Z" class="t"/>
</g>
<g clip-path="url(#cr)">
<circle cx="1322.2" cy="991.5" r="6.60" class="c"/>
<circle cx="1344.7" cy="989.9" r="6.60" class="c"/>
<circle cx="1345.8" cy="991.8" r="6.60" class="c"/>
<circle cx="1347.4" cy="989.4" r="6.60" class="c"/>
<circle cx="1356.9" cy="990.4" r="6.60" class="c"/>
<circle cx="1362.5" cy="989.2" r="6.60" class="c"/>
<circle cx="1363.8" cy="988.2" r="6.60" class="c"/>
<circle cx="1363.9" cy="989.0" r="6.60" class="c"/>
<circle cx="1363.8" cy="991.7" r="6.60" class="c"/>
<circle cx="1366.6" cy="991.7" r="6.60" class="c"/>
<circle cx="1369.2" cy="985.1" r="6.60" class="c"/>
<circle cx="1372.7" cy="984.3" r="6.60" class="c"/>
<circle cx="1373.9" cy="986.1" r="6.60" class="c"/>
<circle cx="1379.5" cy="991.0" r="6.60" class="c"/>
<circle cx="1382.3" cy="990.2" r="6.60" class="c"/>
<circle cx="1382.6" cy="986.4" r="6.60" class="c"/>
<circle cx="1387.8" cy="991.0" r="6.60" class="c"/>
<circle cx="1389.9" cy="991.1" r="6.60" class="c"/>
<circle cx="1390.7" cy="990.5" r="6.60" class="c"/>
<circle cx="1391.1" cy="988.1" r="6.60" class="c"/>
<circle cx="1392.8" cy="991.2" r="6.60" class="c"/>
<circle cx="1394.2" cy="988.3" r="6.60" class="c"/>
<circle cx="1395.2" cy="984.8" r="6.60" class="c"/>
<circle cx="1397.0" cy="987.9" r="6.60" class="c"/>
<circle cx="1397.9" cy="987.5" r="6.60" class="c"/>
<circle cx="1398.8" cy="986.4" r="6.60" class="c"/>
<circle cx="1399.3" cy="987.9" r="6.60" class="c"/>
<circle cx="1399.3" cy="989.3" r="6.60" class="c"/>
<circle cx="1400.6" cy="990.5" r="6.60" class="c"/>
<circle cx="1402.3" cy="991.4" r="6.60" class="c"/>
<circle cx="1402.3" cy="988.2" r="6.60" class="c"/>
<circle cx="1404.1" cy="984.8" r="6.60" class="c"/>
<circle cx="1404.4" cy="988.5" r="6.60" class="c"/>
<circle cx="1404.2" cy="990.1" r="6.60" class="c"/>
<circle cx="1405.2" cy="989.5" r="6.60" class="c"/>
<circle cx="1406.1" cy="988.9" r="6.60" class="c"/>
<circle cx="1406.5" cy="989.8" r="6.60" class="c"/>
<circle cx="1407.2" cy="987.7" r="6.60" class="c"/>
<circle cx="1409.7" cy="990.1" r="6.60" class="c"/>
<circle cx="1412.3" cy="985.1" r="6.60" class="c"/>
<circle cx="1424.4" cy="988.9" r="6.60" class="c"/>
<circle cx="1425.6" cy="986.3" r="6.60" class="c"/>
<circle cx="1426.8" cy="986.7" r="6.60" class="c"/>
<circle cx="1426.8" cy="991.2" r="6.60" class="c"/>
<circle cx="1429.8" cy="987.7" r="6.60" class="c"/>
<circle cx="1429.9" cy="991.3" r="6.60" class="c"/>
<circle cx="1443.1" cy="985.6" r="6.60" class="c"/>
<circle cx="1442.2" cy="990.8" r="6.60" class="c"/>
<circle cx="1444.8" cy="991.7" r="6.60" class="c"/>
<circle cx="1449.2" cy="988.0" r="6.60" class="c"/>
<circle cx="1450.3" cy="991.2" r="6.60" class="c"/>
<circle cx="1452.3" cy="987.5" r="6.60" class="c"/>
<circle cx="1455.0" cy="987.2" r="6.60" class="c"/>
<circle cx="1458.4" cy="989.2" r="6.60" class="c"/>
<circle cx="1460.5" cy="989.8" r="6.60" class="c"/>
<circle cx="1460.4" cy="990.8" r="6.60" class="c"/>
<circle cx="1464.5" cy="991.7" r="6.60" class="c"/>
<circle cx="1463.0" cy="985.6" r="6.60" class="c"/>
<circle cx="1466.4" cy="986.1" r="6.60" class="c"/>
<circle cx="1465.8" cy="988.2" r="6.60" class="c"/>
<circle cx="1466.8" cy="989.4" r="6.60" class="c"/>
<circle cx="1304.3" cy="990.4" r="6.60" class="c"/>
<circle cx="1314.9" cy="989.9" r="6.60" class="c"/>
<circle cx="1316.6" cy="990.1" r="6.60" class="c"/>
<circle cx="1470.0" cy="988.2" r="6.60" class="c"/>
<circle cx="1478.6" cy="989.2" r="6.60" class="c"/>
<circle cx="1486.7" cy="985.7" r="6.60" class="c"/>
<circle cx="1495.3" cy="989.2" r="6.60" class="c"/>
<circle cx="1506.3" cy="985.2" r="6.60" class="c"/>
<circle cx="1508.0" cy="987.0" r="6.60" class="c"/>
<circle cx="1529.5" cy="989.7" r="6.60" class="c"/>
<circle cx="1548.7" cy="989.2" r="6.60" class="c"/>
<circle cx="1553.7" cy="986.2" r="6.60" class="c"/>
<circle cx="1578.9" cy="989.7" r="6.60" class="c"/>
<circle cx="1602.1" cy="988.7" r="6.60" class="c"/>
<circle cx="1615.2" cy="988.2" r="6.60" class="c"/>
<circle cx="1639.3" cy="987.2" r="6.60" class="c"/>
<circle cx="1646.4" cy="987.7" r="6.60" class="c"/>
<circle cx="1667.6" cy="989.2" r="6.60" class="c"/>
<circle cx="1805.9" cy="985.7" r="6.60" class="c"/>
<circle cx="1804.9" cy="989.2" r="6.60" class="c"/>
<circle cx="1813.9" cy="989.2" r="6.60" class="c"/>
<circle cx="1822.5" cy="989.2" r="6.60" class="c"/>
<circle cx="1853.2" cy="989.7" r="6.60" class="c"/>
<circle cx="1871.4" cy="988.7" r="6.60" class="c"/>
<circle cx="1883.5" cy="988.7" r="6.60" class="c"/>
<circle cx="1901.6" cy="988.7" r="6.60" class="c"/>
<circle cx="2311.0" cy="990.5" r="6.60" class="c"/>
<circle cx="2314.0" cy="991.0" r="6.60" class="c"/>
<circle cx="2316.0" cy="991.0" r="6.60" class="c"/>
<rect x="1293.6" y="789.3" width="13.2" height="13.2" class="s"/>
<rect x="1293.8" y="794.1" width="13.2" height="13.2" class="s"/>
<rect x="1293.7" y="797.8" width="13.2" height="13.2" class="s"/>
<rect x="1293.8" y="799.2" width="13.2" height="13.2" class="s"/>
<rect x="1293.5" y="801.6" width="13.2" height="13.2" class="s"/>
<rect x="1293.7" y="803.9" width="13.2" height="13.2" class="s"/>
<rect x="1293.5" y="807.6" width="13.2" height="13.2" class="s"/>
<rect x="1293.2" y="808.9" width="13.2" height="13.2" class="s"/>
<rect x="1293.3" y="813.5" width="13.2" height="13.2" class="s"/>
<rect x="1293.2" y="814.8" width="13.2" height="13.2" class="s"/>
<rect x="1293.9" y="817.3" width="13.2" height="13.2" class="s"/>
<rect x="1293.4" y="820.6" width="13.2" height="13.2" class="s"/>
<rect x="1293.2" y="822.2" width="13.2" height="13.2" class="s"/>
<rect x="1293.4" y="823.2" width="13.2" height="13.2" class="s"/>
<rect x="1293.4" y="825.6" width="13.2" height="13.2" class="s"/>
<rect x="1293.2" y="827.1" width="13.2" height="13.2" class="s"/>
<rect x="1293.6" y="827.9" width="13.2" height="13.2" class="s"/>
<rect x="1293.2" y="837.7" width="13.2" height="13.2" class="s"/>
<rect x="1293.9" y="839.2" width="13.2" height="13.2" class="s"/>
<rect x="1293.3" y="840.1" width="13.2" height="13.2" class="s"/>
<rect x="1293.7" y="842.8" width="13.2" height="13.2" class="s"/>
<rect x="1293.3" y="845.2" width="13.2" height="13.2" class="s"/>
<rect x="1293.5" y="846.5" width="13.2" height="13.2" class="s"/>
<rect x="1293.3" y="847.3" width="13.2" height="13.2" class="s"/>
<rect x="1293.3" y="848.8" width="13.2" height="13.2" class="s"/>
<rect x="1293.4" y="849.9" width="13.2" height="13.2" class="s"/>
<rect x="1293.9" y="851.2" width="13.2" height="13.2" class="s"/>
<rect x="1293.5" y="852.5" width="13.2" height="13.2" class="s"/>
<rect x="1293.4" y="853.4" width="13.2" height="13.2" class="s"/>
<rect x="1293.4" y="854.7" width="13.2" height="13.2" class="s"/>
<rect x="1293.4" y="855.9" width="13.2" height="13.2" class="s"/>
<rect x="1293.5" y="857.3" width="13.2" height="13.2" class="s"/>
<rect x="1293.6" y="858.1" width="13.2" height="13.2" class="s"/>
<rect x="1293.2" y="859.7" width="13.2" height="13.2" class="s"/>
<rect x="1293.7" y="860.8" width="13.2" height="13.2" class="s"/>
<rect x="1293.6" y="862.1" width="13.2" height="13.2" class="s"/>
<rect x="1293.8" y="863.2" width="13.2" height="13.2" class="s"/>
<rect x="1293.9" y="864.4" width="13.2" height="13.2" class="s"/>
<rect x="1293.6" y="865.7" width="13.2" height="13.2" class="s"/>
<rect x="1293.5" y="867.0" width="13.2" height="13.2" class="s"/>
<rect x="1293.9" y="867.9" width="13.2" height="13.2" class="s"/>
<rect x="1293.8" y="869.1" width="13.2" height="13.2" class="s"/>
<rect x="1293.2" y="870.3" width="13.2" height="13.2" class="s"/>
<rect x="1293.3" y="871.8" width="13.2" height="13.2" class="s"/>
<rect x="1293.9" y="873.1" width="13.2" height="13.2" class="s"/>
<rect x="1293.9" y="875.5" width="13.2" height="13.2" class="s"/>
<rect x="1293.6" y="876.4" width="13.2" height="13.2" class="s"/>
<rect x="1293.7" y="877.5" width="13.2" height="13.2" class="s"/>
<rect x="1293.2" y="878.8" width="13.2" height="13.2" class="s"/>
<rect x="1293.2" y="880.4" width="13.2" height="13.2" class="s"/>
<rect x="1293.4" y="882.4" width="13.2" height="13.2" class="s"/>
<rect x="1293.8" y="883.6" width="13.2" height="13.2" class="s"/>
<rect x="1293.6" y="885.1" width="13.2" height="13.2" class="s"/>
<rect x="1293.2" y="886.4" width="13.2" height="13.2" class="s"/>
<rect x="1293.2" y="887.6" width="13.2" height="13.2" class="s"/>
<rect x="1293.6" y="888.8" width="13.2" height="13.2" class="s"/>
<rect x="1293.6" y="889.7" width="13.2" height="13.2" class="s"/>
<rect x="1293.4" y="890.9" width="13.2" height="13.2" class="s"/>
<rect x="1293.6" y="892.1" width="13.2" height="13.2" class="s"/>
<rect x="1293.4" y="893.2" width="13.2" height="13.2" class="s"/>
<rect x="1293.3" y="894.6" width="13.2" height="13.2" class="s"/>
<rect x="1293.8" y="895.8" width="13.2" height="13.2" class="s"/>
<rect x="1293.5" y="897.1" width="13.2" height="13.2" class="s"/>
<rect x="1293.7" y="899.6" width="13.2" height="13.2" class="s"/>
<rect x="1293.2" y="900.5" width="13.2" height="13.2" class="s"/>
<rect x="1293.2" y="902.1" width="13.2" height="13.2" class="s"/>
<rect x="1293.4" y="903.0" width="13.2" height="13.2" class="s"/>
<rect x="1293.3" y="904.3" width="13.2" height="13.2" class="s"/>
<rect x="1293.4" y="907.0" width="13.2" height="13.2" class="s"/>
<rect x="1293.2" y="907.9" width="13.2" height="13.2" class="s"/>
<rect x="1293.3" y="909.2" width="13.2" height="13.2" class="s"/>
<rect x="1293.2" y="910.2" width="13.2" height="13.2" class="s"/>
<rect x="1293.6" y="911.6" width="13.2" height="13.2" class="s"/>
<rect x="1293.7" y="913.0" width="13.2" height="13.2" class="s"/>
<rect x="1293.9" y="913.8" width="13.2" height="13.2" class="s"/>
<rect x="1293.2" y="915.4" width="13.2" height="13.2" class="s"/>
<rect x="1293.7" y="916.6" width="13.2" height="13.2" class="s"/>
<rect x="1293.6" y="917.8" width="13.2" height="13.2" class="s"/>
<rect x="1293.6" y="919.0" width="13.2" height="13.2" class="s"/>
<rect x="1293.3" y="919.8" width="13.2" height="13.2" class="s"/>
<rect x="1293.6" y="921.3" width="13.2" height="13.2" class="s"/>
<rect x="1293.5" y="922.2" width="13.2" height="13.2" class="s"/>
<rect x="1293.6" y="923.7" width="13.2" height="13.2" class="s"/>
<rect x="1293.7" y="924.8" width="13.2" height="13.2" class="s"/>
<rect x="1293.7" y="926.3" width="13.2" height="13.2" class="s"/>
<rect x="1293.5" y="927.4" width="13.2" height="13.2" class="s"/>
<rect x="1293.7" y="928.3" width="13.2" height="13.2" class="s"/>
<rect x="1293.6" y="929.5" width="13.2" height="13.2" class="s"/>
<rect x="1293.7" y="930.8" width="13.2" height="13.2" class="s"/>
<rect x="1293.5" y="932.0" width="13.2" height="13.2" class="s"/>
<rect x="1293.9" y="933.6" width="13.2" height="13.2" class="s"/>
<rect x="1293.3" y="936.0" width="13.2" height="13.2" class="s"/>
<rect x="1293.3" y="937.0" width="13.2" height="13.2" class="s"/>
<rect x="1293.8" y="938.2" width="13.2" height="13.2" class="s"/>
<rect x="1293.3" y="939.6" width="13.2" height="13.2" class="s"/>
<rect x="1293.2" y="940.6" width="13.2" height="13.2" class="s"/>
<rect x="1293.3" y="941.8" width="13.2" height="13.2" class="s"/>
<rect x="1293.2" y="943.2" width="13.2" height="13.2" class="s"/>
<rect x="1293.9" y="944.4" width="13.2" height="13.2" class="s"/>
<rect x="1293.5" y="945.4" width="13.2" height="13.2" class="s"/>
<rect x="1293.4" y="946.6" width="13.2" height="13.2" class="s"/>
<rect x="1293.2" y="948.1" width="13.2" height="13.2" class="s"/>
<rect x="1293.6" y="950.2" width="13.2" height="13.2" class="s"/>
<rect x="1293.7" y="952.9" width="13.2" height="13.2" class="s"/>
<rect x="1295.2" y="794.8" width="13.2" height="13.2" class="s"/>
<rect x="1295.2" y="798.3" width="13.2" height="13.2" class="s"/>
<rect x="1296.4" y="801.7" width="13.2" height="13.2" class="s"/>
<rect x="1296.7" y="811.4" width="13.2" height="13.2" class="s"/>
<rect x="1297.8" y="812.5" width="13.2" height="13.2" class="s"/>
<rect x="1297.2" y="812.9" width="13.2" height="13.2" class="s"/>
<rect x="1296.6" y="821.7" width="13.2" height="13.2" class="s"/>
<rect x="1294.1" y="822.7" width="13.2" height="13.2" class="s"/>
<rect x="1294.1" y="824.9" width="13.2" height="13.2" class="s"/>
<rect x="1295.0" y="827.3" width="13.2" height="13.2" class="s"/>
<rect x="1294.7" y="830.6" width="13.2" height="13.2" class="s"/>
<rect x="1295.2" y="831.0" width="13.2" height="13.2" class="s"/>
<rect x="1295.7" y="841.3" width="13.2" height="13.2" class="s"/>
<rect x="1293.4" y="849.0" width="13.2" height="13.2" class="s"/>
<rect x="1294.4" y="850.7" width="13.2" height="13.2" class="s"/>
<rect x="1293.4" y="854.9" width="13.2" height="13.2" class="s"/>
<rect x="1296.0" y="854.3" width="13.2" height="13.2" class="s"/>
<rect x="1293.4" y="860.3" width="13.2" height="13.2" class="s"/>
<rect x="1296.5" y="861.7" width="13.2" height="13.2" class="s"/>
<rect x="1294.7" y="863.0" width="13.2" height="13.2" class="s"/>
<rect x="1296.9" y="866.2" width="13.2" height="13.2" class="s"/>
<rect x="1294.7" y="868.9" width="13.2" height="13.2" class="s"/>
<rect x="1293.4" y="872.5" width="13.2" height="13.2" class="s"/>
<rect x="1295.8" y="873.7" width="13.2" height="13.2" class="s"/>
<rect x="1295.4" y="873.3" width="13.2" height="13.2" class="s"/>
<rect x="1295.5" y="876.7" width="13.2" height="13.2" class="s"/>
<rect x="1293.4" y="879.2" width="13.2" height="13.2" class="s"/>
<rect x="1293.4" y="880.9" width="13.2" height="13.2" class="s"/>
<rect x="1295.2" y="879.4" width="13.2" height="13.2" class="s"/>
<rect x="1298.6" y="882.8" width="13.2" height="13.2" class="s"/>
<rect x="1295.2" y="881.9" width="13.2" height="13.2" class="s"/>
<rect x="1293.4" y="884.2" width="13.2" height="13.2" class="s"/>
<rect x="1293.4" y="885.9" width="13.2" height="13.2" class="s"/>
<rect x="1293.4" y="887.6" width="13.2" height="13.2" class="s"/>
<rect x="1293.4" y="891.5" width="13.2" height="13.2" class="s"/>
<rect x="1295.0" y="893.0" width="13.2" height="13.2" class="s"/>
<rect x="1295.9" y="895.1" width="13.2" height="13.2" class="s"/>
<rect x="1294.2" y="895.7" width="13.2" height="13.2" class="s"/>
<rect x="1293.4" y="900.3" width="13.2" height="13.2" class="s"/>
<rect x="1295.3" y="901.7" width="13.2" height="13.2" class="s"/>
<rect x="1293.4" y="902.8" width="13.2" height="13.2" class="s"/>
<rect x="1293.4" y="904.5" width="13.2" height="13.2" class="s"/>
<rect x="1293.4" y="911.3" width="13.2" height="13.2" class="s"/>
<rect x="1293.4" y="913.0" width="13.2" height="13.2" class="s"/>
<rect x="1293.4" y="918.3" width="13.2" height="13.2" class="s"/>
<rect x="1293.4" y="920.0" width="13.2" height="13.2" class="s"/>
<rect x="1293.4" y="924.7" width="13.2" height="13.2" class="s"/>
<rect x="1293.4" y="926.1" width="13.2" height="13.2" class="s"/>
<rect x="1294.9" y="925.5" width="13.2" height="13.2" class="s"/>
<rect x="1294.1" y="928.8" width="13.2" height="13.2" class="s"/>
<rect x="1294.1" y="930.2" width="13.2" height="13.2" class="s"/>
<rect x="1294.5" y="934.2" width="13.2" height="13.2" class="s"/>
<rect x="1296.8" y="933.9" width="13.2" height="13.2" class="s"/>
<rect x="1294.8" y="934.8" width="13.2" height="13.2" class="s"/>
<rect x="1293.4" y="939.3" width="13.2" height="13.2" class="s"/>
<rect x="1293.4" y="942.3" width="13.2" height="13.2" class="s"/>
<rect x="1297.2" y="946.1" width="13.2" height="13.2" class="s"/>
<rect x="1297.6" y="948.9" width="13.2" height="13.2" class="s"/>
<rect x="1295.9" y="949.6" width="13.2" height="13.2" class="s"/>
<rect x="1296.3" y="951.8" width="13.2" height="13.2" class="s"/>
<rect x="1297.9" y="952.8" width="13.2" height="13.2" class="s"/>
<rect x="1297.9" y="958.3" width="13.2" height="13.2" class="s"/>
<rect x="1295.9" y="959.2" width="13.2" height="13.2" class="s"/>
<rect x="1294.9" y="959.0" width="13.2" height="13.2" class="s"/>
<rect x="1297.9" y="963.6" width="13.2" height="13.2" class="s"/>
<rect x="1298.3" y="966.8" width="13.2" height="13.2" class="s"/>
<rect x="1297.6" y="973.2" width="13.2" height="13.2" class="s"/>
<rect x="1293.9" y="961.8" width="13.2" height="13.2" class="s"/>
<rect x="1295.6" y="956.5" width="13.2" height="13.2" class="s"/>
<rect x="1295.4" y="975.8" width="13.2" height="13.2" class="s"/>
<rect x="1295.3" y="960.8" width="13.2" height="13.2" class="s"/>
<rect x="1296.3" y="973.0" width="13.2" height="13.2" class="s"/>
<rect x="1297.0" y="977.0" width="13.2" height="13.2" class="s"/>
<rect x="1294.1" y="974.4" width="13.2" height="13.2" class="s"/>
<rect x="1294.8" y="979.9" width="13.2" height="13.2" class="s"/>
<rect x="1295.1" y="971.3" width="13.2" height="13.2" class="s"/>
<rect x="1294.4" y="976.7" width="13.2" height="13.2" class="s"/>
<rect x="1294.6" y="961.2" width="13.2" height="13.2" class="s"/>
<rect x="1297.2" y="958.3" width="13.2" height="13.2" class="s"/>
<rect x="1294.9" y="971.6" width="13.2" height="13.2" class="s"/>
<rect x="1297.6" y="965.9" width="13.2" height="13.2" class="s"/>
<rect x="1295.9" y="208.8" width="13.2" height="13.2" class="s"/>
<rect x="1293.9" y="415.7" width="13.2" height="13.2" class="s"/>
<rect x="1293.9" y="424.7" width="13.2" height="13.2" class="s"/>
<rect x="1297.4" y="561.6" width="13.2" height="13.2" class="s"/>
<rect x="1294.4" y="663.5" width="13.2" height="13.2" class="s"/>
<rect x="1293.9" y="683.1" width="13.2" height="13.2" class="s"/>
<rect x="1295.9" y="693.4" width="13.2" height="13.2" class="s"/>
<rect x="1294.9" y="681.9" width="13.2" height="13.2" class="s"/>
<rect x="1295.8" y="689.7" width="13.2" height="13.2" class="s"/>
<rect x="1296.4" y="704.6" width="13.2" height="13.2" class="s"/>
<rect x="1294.8" y="712.0" width="13.2" height="13.2" class="s"/>
<rect x="1295.9" y="718.2" width="13.2" height="13.2" class="s"/>
<rect x="1293.5" y="723.0" width="13.2" height="13.2" class="s"/>
<rect x="1294.8" y="735.8" width="13.2" height="13.2" class="s"/>
<rect x="1297.3" y="744.6" width="13.2" height="13.2" class="s"/>
<rect x="1297.2" y="752.1" width="13.2" height="13.2" class="s"/>
<rect x="1297.0" y="760.3" width="13.2" height="13.2" class="s"/>
<rect x="1295.2" y="769.0" width="13.2" height="13.2" class="s"/>
<rect x="1297.2" y="775.6" width="13.2" height="13.2" class="s"/>
<rect x="1296.2" y="784.6" width="13.2" height="13.2" class="s"/>
<path d="M1300.0 789.5L1293.4 802.7H1306.6Z" class="t"/>
<path d="M1300.3 790.4L1293.7 803.6H1306.9Z" class="t"/>
<path d="M1299.9 791.8L1293.3 805.0H1306.5Z" class="t"/>
<path d="M1300.1 793.1L1293.5 806.3H1306.7Z" class="t"/>
<path d="M1300.2 794.5L1293.6 807.7H1306.8Z" class="t"/>
<path d="M1300.0 795.3L1293.4 808.5H1306.6Z" class="t"/>
<path d="M1300.4 796.7L1293.8 809.9H1307.0Z" class="t"/>
<path d="M1299.9 797.6L1293.3 810.8H1306.5Z" class="t"/>
<path d="M1300.4 799.0L1293.8 812.2H1307.0Z" class="t"/>
<path d="M1300.4 800.3L1293.8 813.5H1307.0Z" class="t"/>
<path d="M1300.1 801.7L1293.5 814.9H1306.7Z" class="t"/>
<path d="M1300.3 802.5L1293.7 815.7H1306.9Z" class="t"/>
<path d="M1300.4 804.1L1293.8 817.3H1307.0Z" class="t"/>
<path d="M1300.3 805.3L1293.7 818.5H1306.9Z" class="t"/>
<path d="M1300.5 806.1L1293.9 819.3H1307.1Z" class="t"/>
<path d="M1300.8 807.7L1294.2 820.9H1307.4Z" class="t"/>
<path d="M1300.3 808.6L1293.7 821.8H1306.9Z" class="t"/>
<path d="M1300.1 809.9L1293.5 823.1H1306.7Z" class="t"/>
<path d="M1300.3 811.2L1293.7 824.4H1306.9Z" class="t"/>
<path d="M1300.7 812.3L1294.1 825.5H1307.3Z" class="t"/>
<path d="M1300.7 813.8L1294.1 827.0H1307.3Z" class="t"/>
<path d="M1300.3 814.8L1293.7 828.0H1306.9Z" class="t"/>
<path d="M1300.4 816.2L1293.8 829.4H1307.0Z" class="t"/>
<path d="M1300.4 817.3L1293.8 830.5H1307.0Z" class="t"/>
<path d="M1300.2 819.4L1293.6 832.6H1306.8Z" class="t"/>
<path d="M1299.9 820.7L1293.3 833.9H1306.5Z" class="t"/>
<path d="M1300.0 821.9L1293.4 835.1H1306.6Z" class="t"/>
<path d="M1300.0 824.6L1293.4 837.8H1306.6Z" class="t"/>
<path d="M1300.3 825.5L1293.7 838.7H1306.9Z" class="t"/>
<path d="M1300.2 831.6L1293.6 844.8H1306.8Z" class="t"/>
<path d="M1300.1 834.3L1293.5 847.5H1306.7Z" class="t"/>
<path d="M1300.3 837.7L1293.7 850.9H1306.9Z" class="t"/>
<path d="M1300.5 839.2L1293.9 852.4H1307.1Z" class="t"/>
<path d="M1300.0 841.5L1293.4 854.7H1306.6Z" class="t"/>
<path d="M1300.5 844.0L1293.9 857.2H1307.1Z" class="t"/>
<path d="M1300.6 846.5L1294.0 859.7H1307.2Z" class="t"/>
<path d="M1300.4 863.1L1293.8 876.3H1307.0Z" class="t"/>
<path d="M1300.5 871.8L1293.9 885.0H1307.1Z" class="t"/>
<path d="M1300.1 882.3L1293.5 895.5H1306.7Z" class="t"/>
<path d="M1299.9 886.3L1293.3 899.5H1306.5Z" class="t"/>
<path d="M1300.7 888.6L1294.1 901.8H1307.3Z" class="t"/>
<path d="M1300.0 890.8L1293.4 904.0H1306.6Z" class="t"/>
<path d="M1300.5 901.8L1293.9 915.0H1307.1Z" class="t"/>
<path d="M1300.1 910.2L1293.5 923.4H1306.7Z" class="t"/>
<path d="M1300.2 921.1L1293.6 934.3H1306.8Z" class="t"/>
<path d="M1300.1 926.2L1293.5 939.4H1306.7Z" class="t"/>
<path d="M1300.1 929.9L1293.5 943.1H1306.7Z" class="t"/>
<path d="M1300.1 931.0L1293.5 944.2H1306.7Z" class="t"/>
<path d="M1300.3 934.7L1293.7 947.9H1306.9Z" class="t"/>
<path d="M1301.4 984.3L1294.8 997.5H1308.0Z" class="t"/>
<path d="M1299.9 976.5L1293.3 989.7H1306.5Z" class="t"/>
<path d="M1301.0 976.9L1294.4 990.1H1307.6Z" class="t"/>
<path d="M1301.9 977.6L1295.3 990.8H1308.5Z" class="t"/>
<path d="M1299.9 961.1L1293.3 974.3H1306.5Z" class="t"/>
<path d="M1300.0 983.8L1293.4 997.0H1306.6Z" class="t"/>
<path d="M1300.6 967.7L1294.0 980.9H1307.2Z" class="t"/>
<path d="M1302.4 961.6L1295.8 974.8H1309.0Z" class="t"/>
<path d="M1300.3 985.5L1293.7 998.7H1306.9Z" class="t"/>
<path d="M1300.4 974.2L1293.8 987.4H1307.0Z" class="t"/>
<path d="M1300.8 970.7L1294.2 983.9H1307.4Z" class="t"/>
<path d="M1300.1 956.9L1293.5 970.1H1306.7Z" class="t"/>
<path d="M1303.3 958.4L1296.7 971.6H1309.9Z" class="t"/>
<path d="M1300.2 968.6L1293.6 981.8H1306.8Z" class="t"/>
<path d="M1303.9 983.1L1297.3 996.3H1310.5Z" class="t"/>
<path d="M1300.0 966.9L1293.4 980.1H1306.6Z" class="t"/>
<path d="M1299.9 957.8L1293.3 971.0H1306.5Z" class="t"/>
<path d="M1299.9 963.1L1293.3 976.3H1306.5Z" class="t"/>
<path d="M1300.3 959.5L1293.7 972.7H1306.9Z" class="t"/>
<path d="M1303.2 971.2L1296.6 984.4H1309.8Z" class="t"/>
<path d="M1300.8 977.5L1294.2 990.7H1307.4Z" class="t"/>
<path d="M1301.3 965.7L1294.7 978.9H1307.9Z" class="t"/>
<path d="M1300.6 964.4L1294.0 977.6H1307.2Z" class="t"/>
<path d="M1300.4 953.2L1293.8 966.4H1307.0Z" class="t"/>
<path d="M1300.0 985.2L1293.4 998.4H1306.6Z" class="t"/>
<path d="M1301.8 968.8L1295.2 982.0H1308.4Z" class="t"/>
<path d="M1300.2 981.5L1293.6 994.7H1306.8Z" class="t"/>
<path d="M1300.3 960.6L1293.7 973.8H1306.9Z" class="t"/>
<path d="M1301.0 965.2L1294.4 978.4H1307.6Z" class="t"/>
<path d="M1303.0 984.7L1296.4 997.9H1309.6Z" class="t"/>
<path d="M1299.9 981.9L1293.3 995.1H1306.5Z" class="t"/>
<path d="M1302.2 952.2L1295.6 965.4H1308.8Z" class="t"/>
<path d="M1301.1 982.7L1294.5 995.9H1307.7Z" class="t"/>
<path d="M1299.8 971.8L1293.2 985.0H1306.4Z" class="t"/>
<path d="M1303.4 964.9L1296.8 978.1H1310.0Z" class="t"/>
<path d="M1303.0 980.2L1296.4 993.4H1309.6Z" class="t"/>
<path d="M1300.3 985.4L1293.7 998.6H1306.9Z" class="t"/>
<path d="M1300.0 954.9L1293.4 968.1H1306.6Z" class="t"/>
<path d="M1302.1 969.5L1295.5 982.7H1308.7Z" class="t"/>
<path d="M1302.3 984.3L1295.7 997.5H1308.9Z" class="t"/>
<path d="M1302.5 973.9L1295.9 987.1H1309.1Z" class="t"/>
<path d="M1301.4 967.2L1294.8 980.4H1308.0Z" class="t"/>
<path d="M1302.6 952.4L1296.0 965.6H1309.2Z" class="t"/>
<path d="M1303.4 959.3L1296.8 972.5H1310.0Z" class="t"/>
<path d="M1300.4 973.8L1293.8 987.0H1307.0Z" class="t"/>
<path d="M1300.3 955.6L1293.7 968.8H1306.9Z" class="t"/>
<path d="M1302.1 973.5L1295.5 986.7H1308.7Z" class="t"/>
<path d="M1299.9 955.0L1293.3 968.2H1306.5Z" class="t"/>
<path d="M1301.6 969.6L1295.0 982.8H1308.2Z" class="t"/>
<path d="M1300.2 964.7L1293.6 977.9H1306.8Z" class="t"/>
<path d="M1299.8 972.3L1293.2 985.5H1306.4Z" class="t"/>
<path d="M1301.0 961.7L1294.4 974.9H1307.6Z" class="t"/>
<path d="M1301.9 984.9L1295.3 998.1H1308.5Z" class="t"/>
<path d="M1301.1 982.3L1294.5 995.5H1307.7Z" class="t"/>
<path d="M1300.3 959.3L1293.7 972.5H1306.9Z" class="t"/>
<path d="M1302.2 985.0L1295.6 998.2H1308.8Z" class="t"/>
<path d="M1299.9 961.9L1293.3 975.1H1306.5Z" class="t"/>
<path d="M1302.0 968.6L1295.4 981.8H1308.6Z" class="t"/>
<path d="M1300.3 965.9L1293.7 979.1H1306.9Z" class="t"/>
<path d="M1303.4 974.6L1296.8 987.8H1310.0Z" class="t"/>
<path d="M1299.9 959.0L1293.3 972.2H1306.5Z" class="t"/>
<path d="M1300.9 963.0L1294.3 976.2H1307.5Z" class="t"/>
<path d="M1300.1 975.2L1293.5 988.4H1306.7Z" class="t"/>
<path d="M1302.4 979.2L1295.8 992.4H1309.0Z" class="t"/>
<path d="M1300.2 968.9L1293.6 982.1H1306.8Z" class="t"/>
<path d="M1300.5 985.3L1293.9 998.5H1307.1Z" class="t"/>
<path d="M1300.2 980.0L1293.6 993.2H1306.8Z" class="t"/>
<path d="M1302.5 958.9L1295.9 972.1H1309.1Z" class="t"/>
<path d="M1303.6 961.5L1297.0 974.7H1310.2Z" class="t"/>
<path d="M1300.1 968.6L1293.5 981.8H1306.7Z" class="t"/>
<path d="M1300.8 958.9L1294.2 972.1H1307.4Z" class="t"/>
<path d="M1303.6 974.5L1297.0 987.7H1310.2Z" class="t"/>
<path d="M1300.8 956.2L1294.2 969.4H1307.4Z" class="t"/>
<path d="M1303.7 958.6L1297.1 971.8H1310.3Z" class="t"/>
<path d="M1299.9 956.1L1293.3 969.3H1306.5Z" class="t"/>
<path d="M1300.8 953.2L1294.2 966.4H1307.4Z" class="t"/>
<path d="M1303.2 982.8L1296.6 996.0H1309.8Z" class="t"/>
<path d="M1303.9 976.9L1297.3 990.1H1310.5Z" class="t"/>
<path d="M1300.5 984.0L1293.9 997.2H1307.1Z" class="t"/>
<path d="M1303.5 957.6L1296.9 970.8H1310.1Z" class="t"/>
<path d="M1299.9 977.4L1293.3 990.6H1306.5Z" class="t"/>
<path d="M1300.7 974.5L1294.1 987.7H1307.3Z" class="t"/>
<path d="M1300.5 964.2L1293.9 977.4H1307.1Z" class="t"/>
<path d="M1299.8 957.0L1293.2 970.2H1306.4Z" class="t"/>
<path d="M1300.6 960.9L1294.0 974.1H1307.2Z" class="t"/>
<path d="M1300.0 984.8L1293.4 998.0H1306.6Z" class="t"/>
<path d="M1300.2 985.1L1293.6 998.3H1306.8Z" class="t"/>
<path d="M1302.8 963.6L1296.2 976.8H1309.4Z" class="t"/>
<path d="M1300.9 980.1L1294.3 993.3H1307.5Z" class="t"/>
<path d="M1301.1 952.8L1294.5 966.0H1307.7Z" class="t"/>
<path d="M1303.4 964.2L1296.8 977.4H1310.0Z" class="t"/>
<path d="M1300.7 957.9L1294.1 971.1H1307.3Z" class="t"/>
<path d="M1299.9 982.7L1293.3 995.9H1306.5Z" class="t"/>
<path d="M1302.8 965.6L1296.2 978.8H1309.4Z" class="t"/>
<path d="M1299.9 978.1L1293.3 991.3H1306.5Z" class="t"/>
<path d="M1299.9 952.3L1293.3 965.5H1306.5Z" class="t"/>
<path d="M1300.3 983.5L1293.7 996.7H1306.9Z" class="t"/>
<path d="M1303.3 977.4L1296.7 990.6H1309.9Z" class="t"/>
<path d="M1300.4 963.0L1293.8 976.2H1307.0Z" class="t"/>
<path d="M1301.7 984.9L1295.1 998.1H1308.3Z" class="t"/>
<path d="M1302.2 960.3L1295.6 973.5H1308.8Z" class="t"/>
<path d="M1300.4 962.2L1293.8 975.4H1307.0Z" class="t"/>
<path d="M1302.4 951.2L1295.8 964.4H1309.0Z" class="t"/>
<path d="M1301.8 983.4L1295.2 996.6H1308.4Z" class="t"/>
<path d="M1299.9 984.4L1293.3 997.6H1306.5Z" class="t"/>
<path d="M1301.1 959.3L1294.5 972.5H1307.7Z" class="t"/>
<path d="M1303.6 984.8L1297.0 998.0H1310.2Z" class="t"/>
<path d="M1300.3 964.7L1293.7 977.9H1306.9Z" class="t"/>
<path d="M1301.2 966.2L1294.6 979.4H1307.8Z" class="t"/>
<path d="M1300.1 983.8L1293.5 997.0H1306.7Z" class="t"/>
<path d="M1302.4 979.4L1295.8 992.6H1309.0Z" class="t"/>
<path d="M1302.5 980.1L1295.9 993.3H1309.1Z" class="t"/>
<path d="M1300.5 972.5L1293.9 985.7H1307.1Z" class="t"/>
<path d="M1300.6 962.3L1294.0 975.5H1307.2Z" class="t"/>
<path d="M1299.9 978.7L1293.3 991.9H1306.5Z" class="t"/>
<path d="M1302.4 958.0L1295.8 971.2H1309.0Z" class="t"/>
<path d="M1299.9 959.8L1293.3 973.0H1306.5Z" class="t"/>
<path d="M1301.4 952.2L1294.8 965.4H1308.0Z" class="t"/>
<path d="M1303.8 962.5L1297.2 975.7H1310.4Z" class="t"/>
<path d="M1303.8 982.3L1297.2 995.5H1310.4Z" class="t"/>
<path d="M1301.6 791.9L1295.0 805.1H1308.2Z" class="t"/>
<path d="M1303.8 793.9L1297.2 807.1H1310.4Z" class="t"/>
<path d="M1303.2 794.6L1296.6 807.8H1309.8Z" class="t"/>
<path d="M1302.7 795.9L1296.1 809.1H1309.3Z" class="t"/>
<path d="M1301.6 799.5L1295.0 812.7H1308.2Z" class="t"/>
<path d="M1304.2 801.5L1297.6 814.7H1310.8Z" class="t"/>
<path d="M1301.8 803.3L1295.2 816.5H1308.4Z" class="t"/>
<path d="M1303.2 803.6L1296.6 816.8H1309.8Z" class="t"/>
<path d="M1301.7 806.4L1295.1 819.6H1308.3Z" class="t"/>
<path d="M1302.4 807.0L1295.8 820.2H1309.0Z" class="t"/>
<path d="M1304.0 806.8L1297.4 820.0H1310.6Z" class="t"/>
<path d="M1305.1 807.5L1298.5 820.7H1311.7Z" class="t"/>
<path d="M1304.0 808.3L1297.4 821.5H1310.6Z" class="t"/>
<path d="M1301.4 809.2L1294.8 822.4H1308.0Z" class="t"/>
<path d="M1302.1 812.3L1295.5 825.5H1308.7Z" class="t"/>
<path d="M1305.9 814.5L1299.3 827.7H1312.5Z" class="t"/>
<path d="M1302.1 816.4L1295.5 829.6H1308.7Z" class="t"/>
<path d="M1301.6 817.9L1295.0 831.1H1308.2Z" class="t"/>
<path d="M1302.4 820.6L1295.8 833.8H1309.0Z" class="t"/>
<path d="M1301.5 833.1L1294.9 846.3H1308.1Z" class="t"/>
<path d="M1299.9 835.3L1293.3 848.5H1306.5Z" class="t"/>
<path d="M1299.9 840.4L1293.3 853.6H1306.5Z" class="t"/>
<path d="M1302.3 843.1L1295.7 856.3H1308.9Z" class="t"/>
<path d="M1300.9 844.3L1294.3 857.5H1307.5Z" class="t"/>
<path d="M1299.9 852.5L1293.3 865.7H1306.5Z" class="t"/>
<path d="M1302.1 854.8L1295.5 868.0H1308.7Z" class="t"/>
<path d="M1299.9 856.9L1293.3 870.1H1306.5Z" class="t"/>
<path d="M1302.4 860.8L1295.8 874.0H1309.0Z" class="t"/>
<path d="M1302.0 860.0L1295.4 873.2H1308.6Z" class="t"/>
<path d="M1303.8 862.1L1297.2 875.3H1310.4Z" class="t"/>
<path d="M1299.9 863.5L1293.3 876.7H1306.5Z" class="t"/>
<path d="M1299.9 866.2L1293.3 879.4H1306.5Z" class="t"/>
<path d="M1301.8 868.5L1295.2 881.7H1308.4Z" class="t"/>
<path d="M1299.9 869.4L1293.3 882.6H1306.5Z" class="t"/>
<path d="M1301.0 874.8L1294.4 888.0H1307.6Z" class="t"/>
<path d="M1299.9 876.9L1293.3 890.1H1306.5Z" class="t"/>
<path d="M1303.3 878.0L1296.7 891.2H1309.9Z" class="t"/>
<path d="M1303.5 881.1L1296.9 894.3H1310.1Z" class="t"/>
<path d="M1301.1 889.1L1294.5 902.3H1307.7Z" class="t"/>
<path d="M1299.9 893.7L1293.3 906.9H1306.5Z" class="t"/>
<path d="M1302.5 896.3L1295.9 909.5H1309.1Z" class="t"/>
<path d="M1299.9 897.3L1293.3 910.5H1306.5Z" class="t"/>
<path d="M1301.8 898.5L1295.2 911.7H1308.4Z" class="t"/>
<path d="M1305.9 904.5L1299.3 917.7H1312.5Z" class="t"/>
<path d="M1300.8 907.2L1294.2 920.4H1307.4Z" class="t"/>
<path d="M1299.9 909.1L1293.3 922.3H1306.5Z" class="t"/>
<path d="M1301.1 915.5L1294.5 928.7H1307.7Z" class="t"/>
<path d="M1303.5 916.4L1296.9 929.6H1310.1Z" class="t"/>
<path d="M1299.9 922.4L1293.3 935.6H1306.5Z" class="t"/>
<path d="M1304.5 926.0L1297.9 939.2H1311.1Z" class="t"/>
<path d="M1301.1 930.6L1294.5 943.8H1307.7Z" class="t"/>
<path d="M1300.8 933.2L1294.2 946.4H1307.4Z" class="t"/>
<path d="M1302.9 937.1L1296.3 950.3H1309.5Z" class="t"/>
<path d="M1301.6 938.2L1295.0 951.4H1308.2Z" class="t"/>
<path d="M1299.9 942.5L1293.3 955.7H1306.5Z" class="t"/>
<path d="M1301.4 945.4L1294.8 958.6H1308.0Z" class="t"/>
<path d="M1303.4 945.6L1296.8 958.8H1310.0Z" class="t"/>
<path d="M1301.8 954.8L1295.2 968.0H1308.4Z" class="t"/>
<path d="M1303.2 956.6L1296.6 969.8H1309.8Z" class="t"/>
<path d="M1307.1 959.2L1300.5 972.4H1313.7Z" class="t"/>
<path d="M1304.4 960.6L1297.8 973.8H1311.0Z" class="t"/>
<path d="M1302.2 960.8L1295.6 974.0H1308.8Z" class="t"/>
<path d="M1304.7 963.3L1298.1 976.5H1311.3Z" class="t"/>
<path d="M1302.4 964.0L1295.8 977.2H1309.0Z" class="t"/>
<path d="M1302.3 967.7L1295.7 980.9H1308.9Z" class="t"/>
<path d="M1304.9 969.2L1298.3 982.4H1311.5Z" class="t"/>
<path d="M1303.4 968.8L1296.8 982.0H1310.0Z" class="t"/>
<path d="M1301.8 972.6L1295.2 985.8H1308.4Z" class="t"/>
<path d="M1303.9 973.6L1297.3 986.8H1310.5Z" class="t"/>
<path d="M1300.4 732.1L1293.8 745.3H1307.0Z" class="t"/>
<path d="M1300.1 735.8L1293.5 749.0H1306.7Z" class="t"/>
<path d="M1300.5 740.6L1293.9 753.8H1307.1Z" class="t"/>
<path d="M1302.1 743.8L1295.5 757.0H1308.7Z" class="t"/>
<path d="M1299.5 748.1L1292.9 761.3H1306.1Z" class="t"/>
<path d="M1302.2 751.8L1295.6 765.0H1308.8Z" class="t"/>
<path d="M1300.7 755.8L1294.1 769.0H1307.3Z" class="t"/>
<path d="M1302.7 760.5L1296.1 773.7H1309.3Z" class="t"/>
<path d="M1299.8 763.6L1293.2 776.8H1306.4Z" class="t"/>
<path d="M1301.1 768.5L1294.5 781.7H1307.7Z" class="t"/>
<path d="M1302.1 771.6L1295.5 784.8H1308.7Z" class="t"/>
<path d="M1300.2 776.8L1293.6 790.0H1306.8Z" class="t"/>
<path d="M1301.1 780.0L1294.5 793.2H1307.7Z" class="t"/>
<path d="M1300.7 785.3L1294.1 798.5H1307.3Z" class="t"/>
<path d="M1300.7 788.5L1294.1 801.7H1307.3Z" class="t"/>
</g>
<g clip-path="url(#cl)">
<path d="M146.46 992.0 V180.0" stroke="#2563eb" stroke-opacity="0.8" stroke-width="4.17" stroke-dasharray="15.42 6.67" fill="none"/>
<path d="M102.0 951.40 H1168.95" stroke="#dc2626" stroke-opacity="0.8" stroke-width="4.17" stroke-dasharray="15.42 6.67" fill="none"/>
</g>
<g clip-path="url(#cr)">
<path d="M1306.96 992.0 V180.0" stroke="#2563eb" stroke-opacity="0.8" stroke-width="4.17" stroke-dasharray="15.42 6.67" fill="none"/>
<path d="M1300.0 982.17 H2367.0" stroke="#dc2626" stroke-opacity="0.8" stroke-width="4.17" stroke-dasharray="15.42 6.67" fill="none"/>
</g>
<rect x="102.0" y="180.0" width="1066.95" height="812.00" fill="none" stroke="#000" stroke-width="1.67"/>
<line x1="102.00" y1="992.0" x2="102.00" y2="999.30" stroke="#000" stroke-width="1.67"/>
<text x="102.0" y="1022.7" font-size="21.2" font-weight="normal" text-anchor="middle" fill="#000" textLength="13.2" lengthAdjust="spacingAndGlyphs">0</text>
<line x1="279.83" y1="992.0" x2="279.83" y2="999.30" stroke="#000" stroke-width="1.67"/>
<text x="279.8" y="1022.7" font-size="21.2" font-weight="normal" text-anchor="middle" fill="#000" textLength="26.5" lengthAdjust="spacingAndGlyphs">20</text>
<line x1="457.65" y1="992.0" x2="457.65" y2="999.30" stroke="#000" stroke-width="1.67"/>
<text x="457.7" y="1022.7" font-size="21.2" font-weight="normal" text-anchor="middle" fill="#000" textLength="26.5" lengthAdjust="spacingAndGlyphs">40</text>
<line x1="635.48" y1="992.0" x2="635.48" y2="999.30" stroke="#000" stroke-width="1.67"/>
<text x="635.5" y="1022.7" font-size="21.2" font-weight="normal" text-anchor="middle" fill="#000" textLength="26.5" lengthAdjust="spacingAndGlyphs">60</text>
<line x1="813.30" y1="992.0" x2="813.30" y2="999.30" stroke="#000" stroke-width="1.67"/>
<text x="813.3" y="1022.7" font-size="21.2" font-weight="normal" text-anchor="middle" fill="#000" textLength="26.5" lengthAdjust="spacingAndGlyphs">80</text>
<line x1="991.13" y1="992.0" x2="991.13" y2="999.30" stroke="#000" stroke-width="1.67"/>
<text x="991.1" y="1022.7" font-size="21.2" font-weight="normal" text-anchor="middle" fill="#000" textLength="39.8" lengthAdjust="spacingAndGlyphs">100</text>
<line x1="1168.95" y1="992.0" x2="1168.95" y2="999.30" stroke="#000" stroke-width="1.67"/>
<text x="1169.0" y="1022.7" font-size="21.2" font-weight="normal" text-anchor="middle" fill="#000" textLength="39.8" lengthAdjust="spacingAndGlyphs">120</text>
<line x1="94.70" y1="992.00" x2="102.0" y2="992.00" stroke="#000" stroke-width="1.67"/>
<text x="86.4" y="1000.6" font-size="21.2" font-weight="normal" text-anchor="end" fill="#000" textLength="13.2" lengthAdjust="spacingAndGlyphs">0</text>
<line x1="94.70" y1="890.50" x2="102.0" y2="890.50" stroke="#000" stroke-width="1.67"/>
<text x="86.4" y="899.1" font-size="21.2" font-weight="normal" text-anchor="end" fill="#000" textLength="26.5" lengthAdjust="spacingAndGlyphs">25</text>
<line x1="94.70" y1="789.00" x2="102.0" y2="789.00" stroke="#000" stroke-width="1.67"/>
<text x="86.4" y="797.6" font-size="21.2" font-weight="normal" text-anchor="end" fill="#000" textLength="26.5" lengthAdjust="spacingAndGlyphs">50</text>
<line x1="94.70" y1="687.50" x2="102.0" y2="687.50" stroke="#000" stroke-width="1.67"/>
<text x="86.4" y="696.1" font-size="21.2" font-weight="normal" text-anchor="end" fill="#000" textLength="26.5" lengthAdjust="spacingAndGlyphs">75</text>
<line x1="94.70" y1="586.00" x2="102.0" y2="586.00" stroke="#000" stroke-width="1.67"/>
<text x="86.4" y="594.6" font-size="21.2" font-weight="normal" text-anchor="end" fill="#000" textLength="39.8" lengthAdjust="spacingAndGlyphs">100</text>
<line x1="94.70" y1="484.50" x2="102.0" y2="484.50" stroke="#000" stroke-width="1.67"/>
<text x="86.4" y="493.1" font-size="21.2" font-weight="normal" text-anchor="end" fill="#000" textLength="39.8" lengthAdjust="spacingAndGlyphs">125</text>
<line x1="94.70" y1="383.00" x2="102.0" y2="383.00" stroke="#000" stroke-width="1.67"/>
<text x="86.4" y="391.6" font-size="21.2" font-weight="normal" text-anchor="end" fill="#000" textLength="39.8" lengthAdjust="spacingAndGlyphs">150</text>
<line x1="94.70" y1="281.50" x2="102.0" y2="281.50" stroke="#000" stroke-width="1.67"/>
<text x="86.4" y="290.1" font-size="21.2" font-weight="normal" text-anchor="end" fill="#000" textLength="39.8" lengthAdjust="spacingAndGlyphs">175</text>
<line x1="94.70" y1="180.00" x2="102.0" y2="180.00" stroke="#000" stroke-width="1.67"/>
<text x="86.4" y="188.6" font-size="21.2" font-weight="normal" text-anchor="end" fill="#000" textLength="39.8" lengthAdjust="spacingAndGlyphs">200</text>
<rect x="1300.0" y="180.0" width="1067.00" height="812.00" fill="none" stroke="#000" stroke-width="1.67"/>
<line x1="1300.00" y1="992.0" x2="1300.00" y2="999.30" stroke="#000" stroke-width="1.67"/>
<text x="1300.0" y="1022.7" font-size="21.2" font-weight="normal" text-anchor="middle" fill="#000" textLength="13.2" lengthAdjust="spacingAndGlyphs">0</text>
<line x1="1439.28" y1="992.0" x2="1439.28" y2="999.30" stroke="#000" stroke-width="1.67"/>
<text x="1439.3" y="1022.7" font-size="21.2" font-weight="normal" text-anchor="middle" fill="#000" textLength="39.8" lengthAdjust="spacingAndGlyphs">100</text>
<line x1="1578.56" y1="992.0" x2="1578.56" y2="999.30" stroke="#000" stroke-width="1.67"/>
<text x="1578.6" y="1022.7" font-size="21.2" font-weight="normal" text-anchor="middle" fill="#000" textLength="39.8" lengthAdjust="spacingAndGlyphs">200</text>
<line x1="1717.84" y1="992.0" x2="1717.84" y2="999.30" stroke="#000" stroke-width="1.67"/>
<text x="1717.8" y="1022.7" font-size="21.2" font-weight="normal" text-anchor="middle" fill="#000" textLength="39.8" lengthAdjust="spacingAndGlyphs">300</text>
<line x1="1857.12" y1="992.0" x2="1857.12" y2="999.30" stroke="#000" stroke-width="1.67"/>
<text x="1857.1" y="1022.7" font-size="21.2" font-weight="normal" text-anchor="middle" fill="#000" textLength="39.8" lengthAdjust="spacingAndGlyphs">400</text>
<line x1="1996.39" y1="992.0" x2="1996.39" y2="999.30" stroke="#000" stroke-width="1.67"/>
<text x="1996.4" y="1022.7" font-size="21.2" font-weight="normal" text-anchor="middle" fill="#000" textLength="39.8" lengthAdjust="spacingAndGlyphs">500</text>
<line x1="2135.67" y1="992.0" x2="2135.67" y2="999.30" stroke="#000" stroke-width="1.67"/>
<text x="2135.7" y="1022.7" font-size="21.2" font-weight="normal" text-anchor="middle" fill="#000" textLength="39.8" lengthAdjust="spacingAndGlyphs">600</text>
<line x1="2274.95" y1="992.0" x2="2274.95" y2="999.30" stroke="#000" stroke-width="1.67"/>
<text x="2275.0" y="1022.7" font-size="21.2" font-weight="normal" text-anchor="middle" fill="#000" textLength="39.8" lengthAdjust="spacingAndGlyphs">700</text>
<line x1="1292.70" y1="992.00" x2="1300.0" y2="992.00" stroke="#000" stroke-width="1.67"/>
<text x="1284.4" y="1000.6" font-size="21.2" font-weight="normal" text-anchor="end" fill="#000" textLength="13.2" lengthAdjust="spacingAndGlyphs">0</text>
<line x1="1292.70" y1="893.75" x2="1300.0" y2="893.75" stroke="#000" stroke-width="1.67"/>
<text x="1284.4" y="902.4" font-size="21.2" font-weight="normal" text-anchor="end" fill="#000" textLength="39.8" lengthAdjust="spacingAndGlyphs">100</text>
<line x1="1292.70" y1="795.50" x2="1300.0" y2="795.50" stroke="#000" stroke-width="1.67"/>
<text x="1284.4" y="804.1" font-size="21.2" font-weight="normal" text-anchor="end" fill="#000" textLength="39.8" lengthAdjust="spacingAndGlyphs">200</text>
<line x1="1292.70" y1="697.25" x2="1300.0" y2="697.25" stroke="#000" stroke-width="1.67"/>
<text x="1284.4" y="705.9" font-size="21.2" font-weight="normal" text-anchor="end" fill="#000" textLength="39.8" lengthAdjust="spacingAndGlyphs">300</text>
<line x1="1292.70" y1="599.00" x2="1300.0" y2="599.00" stroke="#000" stroke-width="1.67"/>
<text x="1284.4" y="607.6" font-size="21.2" font-weight="normal" text-anchor="end" fill="#000" textLength="39.8" lengthAdjust="spacingAndGlyphs">400</text>
<line x1="1292.70" y1="500.75" x2="1300.0" y2="500.75" stroke="#000" stroke-width="1.67"/>
<text x="1284.4" y="509.4" font-size="21.2" font-weight="normal" text-anchor="end" fill="#000" textLength="39.8" lengthAdjust="spacingAndGlyphs">500</text>
<line x1="1292.70" y1="402.50" x2="1300.0" y2="402.50" stroke="#000" stroke-width="1.67"/>
<text x="1284.4" y="411.1" font-size="21.2" font-weight="normal" text-anchor="end" fill="#000" textLength="39.8" lengthAdjust="spacingAndGlyphs">600</text>
<line x1="1292.70" y1="304.25" x2="1300.0" y2="304.25" stroke="#000" stroke-width="1.67"/>
<text x="1284.4" y="312.9" font-size="21.2" font-weight="normal" text-anchor="end" fill="#000" textLength="39.8" lengthAdjust="spacingAndGlyphs">700</text>
<line x1="1292.70" y1="206.00" x2="1300.0" y2="206.00" stroke="#000" stroke-width="1.67"/>
<text x="1284.4" y="214.6" font-size="21.2" font-weight="normal" text-anchor="end" fill="#000" textLength="39.8" lengthAdjust="spacingAndGlyphs">800</text>
<text x="505.6" y="1053.8" font-size="25.4" font-weight="normal" text-anchor="start" fill="#000" textLength="258.0" lengthAdjust="spacingAndGlyphs">Zero-Window Events</text>
<text x="1704.5" y="1053.8" font-size="25.4" font-weight="normal" text-anchor="start" fill="#000" textLength="258.0" lengthAdjust="spacingAndGlyphs">Zero-Window Events</text>
<text transform="translate(33.6,697.3) rotate(-90)" font-size="25.4" textLength="221" lengthAdjust="spacingAndGlyphs">Retransmit Count</text>
<text transform="translate(1232.8,696.5) rotate(-90)" font-size="25.4" textLength="219" lengthAdjust="spacingAndGlyphs">Retransmit Count</text>
<rect x="113.0" y="568.1" width="143.5" height="36.2" rx="6" ry="6" fill="#fff" fill-opacity="0.8" stroke="#dc2626" stroke-opacity="0.8" stroke-width="2.08"/>
<text x="120.6" y="592.8" font-size="23.3" font-weight="bold" text-anchor="start" fill="#dc2626" textLength="129.5" lengthAdjust="spacingAndGlyphs">NETWORK</text>
<rect x="552.2" y="568.0" width="165.5" height="36.5" rx="6" ry="6" fill="#fff" fill-opacity="0.8" stroke="#9333ea" stroke-opacity="0.8" stroke-width="2.08"/>
<text x="558.7" y="592.9" font-size="23.3" font-weight="bold" text-anchor="start" fill="#9333ea" textLength="151.0" lengthAdjust="spacingAndGlyphs">COMPOUND</text>
<rect x="566.0" y="957.4" width="137.7" height="36.6" rx="6" ry="6" fill="#fff" fill-opacity="0.8" stroke="#2563eb" stroke-opacity="0.8" stroke-width="2.08"/>
<text x="572.4" y="983.1" font-size="23.3" font-weight="bold" text-anchor="start" fill="#2563eb" textLength="124.5" lengthAdjust="spacingAndGlyphs">RECEIVER</text>
<rect x="113.1" y="957.6" width="127.6" height="36.4" rx="6" ry="6" fill="#fff" fill-opacity="0.8" stroke="#059669" stroke-opacity="0.8" stroke-width="2.08"/>
<text x="119.5" y="982.9" font-size="23.3" font-weight="bold" text-anchor="start" fill="#059669" textLength="114.2" lengthAdjust="spacingAndGlyphs">HEALTHY</text>
<rect x="877.8" y="191.9" width="279.4" height="94.9" rx="4" ry="4" fill="#fff" fill-opacity="0.8" stroke="#cccccc" stroke-opacity="0.8" stroke-width="2.08"/>
<circle cx="906.6" cy="210.4" r="6.60" class="c"/>
<rect x="900.0" y="233.8" width="13.2" height="13.2" class="s"/>
<path d="M906.6 263.8L900.0 277.0H913.2Z" class="t"/>
<text x="942.8" y="216.0" font-size="21.2" font-weight="normal" text-anchor="start" fill="#000" textLength="183.0" lengthAdjust="spacingAndGlyphs">Receiver (n=144)</text>
<text x="942.8" y="245.8" font-size="21.2" font-weight="normal" text-anchor="start" fill="#000" textLength="180.0" lengthAdjust="spacingAndGlyphs">Network (n=288)</text>
<text x="942.8" y="275.7" font-size="21.2" font-weight="normal" text-anchor="start" fill="#000" textLength="206.0" lengthAdjust="spacingAndGlyphs">Compound (n=324)</text>
<rect x="2076.1" y="192.2" width="279.6" height="94.4" rx="4" ry="4" fill="#fff" fill-opacity="0.8" stroke="#cccccc" stroke-opacity="0.8" stroke-width="2.08"/>
<circle cx="2105.6" cy="210.4" r="6.60" class="c"/>
<rect x="2099.0" y="233.8" width="13.2" height="13.2" class="s"/>
<path d="M2105.6 263.8L2099.0 277.0H2112.2Z" class="t"/>
<text x="2141.9" y="216.0" font-size="21.2" font-weight="normal" text-anchor="start" fill="#000" textLength="183.0" lengthAdjust="spacingAndGlyphs">Receiver (n=144)</text>
<text x="2141.9" y="245.8" font-size="21.2" font-weight="normal" text-anchor="start" fill="#000" textLength="180.0" lengthAdjust="spacingAndGlyphs">Network (n=288)</text>
<text x="2141.9" y="275.7" font-size="21.2" font-weight="normal" text-anchor="start" fill="#000" textLength="206.0" lengthAdjust="spacingAndGlyphs">Compound (n=324)</text>
<text x="1648.9" y="625.9" font-size="21.6" font-weight="bold" text-anchor="start" fill="#059669" textLength="93.5" lengthAdjust="spacingAndGlyphs">Zoomed</text>
<text x="1648.0" y="648.7" font-size="21.6" font-weight="bold" text-anchor="start" fill="#059669" textLength="73.5" lengthAdjust="spacingAndGlyphs">region</text>
<path d="M1657 658.5 L1473.5 791.2" stroke="#059669" stroke-width="3.1" fill="none" stroke-linecap="round"/>
<path d="M1478.2 782.2 L1473.2 791.6 L1483.4 789.6" stroke="#059669" stroke-width="3.1" fill="none" stroke-linejoin="round" stroke-linecap="round"/>
</svg>
</body></html>
